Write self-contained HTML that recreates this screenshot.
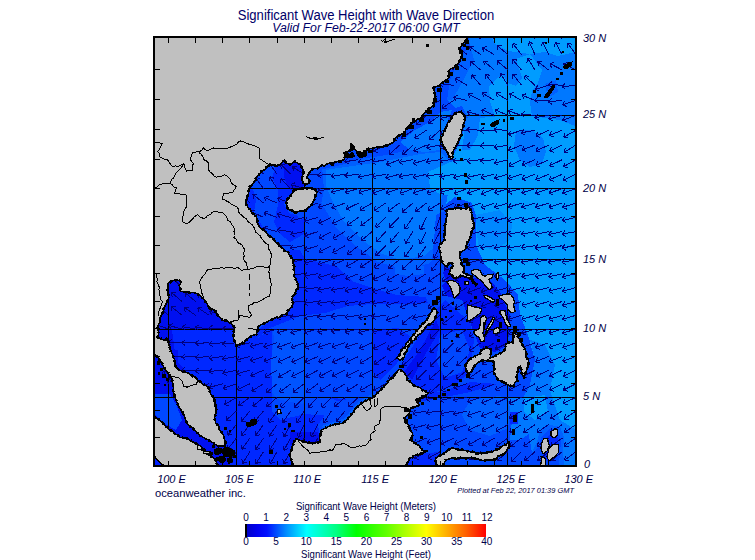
<!DOCTYPE html>
<html><head><meta charset="utf-8"><title>Significant Wave Height</title>
<style>
html,body{margin:0;padding:0;background:#fff;}
body{width:755px;height:560px;position:relative;overflow:hidden;font-family:"Liberation Sans",sans-serif;}
.t{position:absolute;white-space:nowrap;line-height:1;font-family:"Liberation Sans",sans-serif;}
</style></head><body>
<svg width="755" height="560" viewBox="0 0 755 560" style="position:absolute;left:0;top:0" shape-rendering="crispEdges">
<defs><clipPath id="mc"><rect x="155" y="38" width="420" height="427"/></clipPath></defs>
<g clip-path="url(#mc)">
<rect x="154" y="37" width="422" height="429" fill="#0048ff"/>
<polygon points="470,30 580,30 580,470 535,470 528,430 522,400 530,385 535,360 528,335 520,315 518,295 505,280 485,265 476,245 476,215 472,203 455,197 445,205 436,200 440,180 448,165 460,142 468,118 462,106 455,108 447,100 450,80 458,62" fill="#009cff" />
<polygon points="466,30 580,30 580,128 560,120 545,118 532,116 500,116 480,118 468,118 462,106 455,108 447,100 450,80 458,62" fill="#0078ff" />
<polygon points="492,38 580,38 580,51 558,56 545,52 529,54 508,51 495,44" fill="#009cff" />
<polygon points="516,59 530,54 542,70 538,83 532,91 530,102 532,116 495,116 490,102 489,86 497,78 503,75 508,83 516,86 522,78" fill="#009cff" />
<polygon points="516,131 532,130 543,138 546,152 542,164 530,167 520,160 514,146" fill="#0078ff" />
<polygon points="466,118 480,118 478,135 470,150 462,150 464,135" fill="#0078ff" />
<polygon points="476,215 500,210 512,225 510,240 495,250 478,246" fill="#0088ff" />
<polygon points="545,84 556,80 558,92 548,98" fill="#0060ff" />
<polygon points="316,166 340,162 380,156 420,148 440,146 454,160 450,182 446,205 444,248 428,264 400,268 378,262 356,246 336,228 322,204 316,186" fill="#0060ff" />
<polygon points="326,170 345,167 380,162 420,154 440,152 450,162 446,182 440,205 438,244 424,256 400,260 382,254 362,240 344,222 332,200 326,186" fill="#0078ff" />
<polygon points="428,172 446,164 455,160 470,166 470,186 455,196 440,194 430,188" fill="#009cff" />
<polygon points="467,30 470,45 462,60 455,75 448,88 442,100 440,112 430,122 415,130 400,142 385,150 365,156 345,164 320,170 310,180 300,160 400,120 430,85 460,30" fill="#0048ff" />
<polygon points="470,45 474,60 466,75 458,90 452,100 447,100 450,80 458,62" fill="#0060ff" />
<polygon points="440,112 452,110 447,122 442,135 440,150 425,152 410,150 400,142 415,130 430,122" fill="#0078ff" />
<polygon points="245,160 300,160 306,186 286,200 290,212 300,215 300,245 285,252 270,240 255,225 245,205" fill="#0048ff" />
<polygon points="276,164 285,162 284,176 288,188 296,190 288,196 284,204 290,214 305,216 304,234 290,242 280,234 274,222 278,205 278,190 272,178" fill="#0028ff" />
<polygon points="284,160 300,160 304,186 297,191 288,189 284,176" fill="#0010f0" />
<polygon points="243,196 252,186 256,200 254,212 262,226 272,240 282,252 270,247 258,232 250,217 242,206" fill="#0028ff" />
<polygon points="306,168 322,166 324,190 320,210 300,220 296,214 312,205 318,190 310,184" fill="#0048ff" />
<polygon points="288,250 300,250 305,259 336,266 354,282 372,288 397,295 426,297 428,303 397,304 372,304 348,306 325,313 300,316 290,320 270,328 255,340 240,350 236,345 286,310 296,290 294,268" fill="#0028ff" />
<polygon points="395,266 410,262 424,266 424,274 408,276 395,274" fill="#0060ff" />
<polygon points="372,330 398,328 410,336 404,352 395,366 380,380 372,372" fill="#0028ff" />
<polygon points="150,275 240,275 240,330 150,330" fill="#0010f0" />
<polygon points="150,330 240,330 238,350 255,340 272,328 272,400 150,400" fill="#0028ff" />
<polygon points="150,330 172,330 176,360 190,376 176,372 165,345" fill="#0010f0" />
<polygon points="273,329.5 304,329.5 304,404 290,402 277,400 272,392 271,360 274,340" fill="#0054ff" />
<polygon points="150,398 272,398 300,404 330,398 360,400 380,392 400,372 400,470 150,470" fill="#0028ff" />
<polygon points="272,398 300,404 330,398 345,404 330,416 305,414 280,420 272,412" fill="#0048ff" />
<polygon points="310,404 345,400 372,390 395,370 404,375 380,400 350,425 322,445 318,425 325,415" fill="#0048ff" />
<polygon points="322,426 345,418 358,402 372,394 378,396 360,412 348,424 325,432" fill="#0060ff" />
<polygon points="290,432 318,432 320,445 290,445" fill="#0010f0" />
<polygon points="150,350 178,350 178,400 190,425 230,450 230,470 150,470" fill="#0010f0" />
<polygon points="155,394 170,394 176,404 182,420 176,430 165,424 155,415" fill="#0048ff" />
<polygon points="400,366 436,310 445,300 470,322 474,340 470,372 455,385 430,394 415,386" fill="#0028ff" />
<polygon points="404,372 420,350 436,320 440,330 425,355 412,380" fill="#0010f0" />
<polygon points="440,335 462,330 470,350 462,372 445,378 436,360" fill="#0048ff" />
<polygon points="446,266 462,276 490,280 500,292 510,315 508,345 495,352 480,348 470,322 462,300 446,296 440,280" fill="#0010f0" />
<polygon points="410,400 440,396 470,390 500,388 520,395 522,420 510,440 480,452 440,455 425,450 412,432" fill="#0048ff" />
<polygon points="412,388 440,392 470,382 498,384 470,392 440,398 418,402" fill="#0028ff" />
<polygon points="470,400 500,396 512,405 508,428 490,436 470,430 462,415" fill="#0060ff" />
<polygon points="406,455 440,452 440,470 404,470" fill="#0028ff" />
<polygon points="508,398 530,396 540,410 535,430 520,440 510,440 512,420" fill="#0078ff" />
<polygon points="510,412 518,412 518,424 510,424" fill="#0028ff" />
<polygon points="530,340 545,345 555,365 550,390 560,420 576,430 580,470 535,470 528,430 522,400 530,385 535,360" fill="#0078ff" />
<polygon points="524,398 545,395 548,412 535,420 524,412" fill="#009cff" />
<polygon points="540,430 550,425 560,427 564,437 563,452 565,470 530,470 532,452 537,442" fill="#0060ff" />
<polygon points="542,436 550,429 558,430 561,440 560,455 558,468 524,468 530,455 538,448" fill="#0048ff" />
<polygon points="545,440 551,433 557,434 559,444 556,456 550,462 543,458" fill="#0028ff" />
<polygon points="436,215 447,210 446,245 440,262 446,282 436,290 432,262 434,240" fill="#0048ff" />
<rect x="168" y="37" width="1" height="429" fill="#000"/>
<rect x="236" y="37" width="1" height="429" fill="#000"/>
<rect x="304" y="37" width="1" height="429" fill="#000"/>
<rect x="372" y="37" width="1" height="429" fill="#000"/>
<rect x="440" y="37" width="1" height="429" fill="#000"/>
<rect x="507" y="37" width="1" height="429" fill="#000"/>
<rect x="154" y="397" width="422" height="1" fill="#000"/>
<rect x="154" y="329" width="422" height="1" fill="#000"/>
<rect x="154" y="259" width="422" height="1" fill="#000"/>
<rect x="154" y="188" width="422" height="1" fill="#000"/>
<rect x="154" y="115" width="422" height="1" fill="#000"/>
<path d="M154.9 383.8L151.2 370.3M151.2 370.3L149.3 374.5M151.2 370.3L155.0 372.9M154.9 370.2L151.2 356.7M151.2 356.7L149.3 360.9M151.2 356.7L155.0 359.3M154.9 356.5L152.3 342.8M152.3 342.8L150.1 346.8M152.3 342.8L155.9 345.7M154.9 342.8L152.1 329.1M152.1 329.1L149.9 333.2M152.1 329.1L155.7 332.0M154.9 329.1L144.5 319.8M144.5 319.8L145.1 324.3M144.5 319.8L149.1 319.9M154.9 315.3L143.8 306.8M143.8 306.8L144.8 311.3M143.8 306.8L148.4 306.6M154.9 301.5L144.9 291.7M144.9 291.7L145.4 296.3M144.9 291.7L149.5 292.1M154.9 287.6L146.5 276.4M146.5 276.4L146.3 281.0M146.5 276.4L151.0 277.5M154.9 273.7L146.3 262.7M146.3 262.7L146.1 267.3M146.3 262.7L150.8 263.7M154.9 259.7L145.1 249.8M145.1 249.8L145.5 254.3M145.1 249.8L149.7 250.2M154.9 245.7L144.1 236.9M144.1 236.9L144.9 241.4M144.1 236.9L148.7 236.8M154.9 231.6L143.3 223.8M143.3 223.8L144.6 228.2M143.3 223.8L147.9 223.3M154.9 217.4L142.8 210.3M142.8 210.3L144.4 214.6M142.8 210.3L147.4 209.5M154.9 203.1L142.6 196.4M142.6 196.4L144.3 200.7M142.6 196.4L147.1 195.5M154.9 188.7L142.6 182.2M142.6 182.2L144.3 186.4M142.6 182.2L147.1 181.2M154.9 174.3L142.6 167.7M142.6 167.7L144.3 172.0M142.6 167.7L147.1 166.7M154.9 159.7L142.5 153.2M142.5 153.2L144.3 157.4M142.5 153.2L147.0 152.2M154.9 145.1L142.5 138.6M142.5 138.6L144.3 142.9M142.5 138.6L147.0 137.6M154.9 130.3L142.4 124.1M142.4 124.1L144.2 128.3M142.4 124.1L146.9 123.0M154.9 115.4L142.3 109.5M142.3 109.5L144.2 113.6M142.3 109.5L146.7 108.3M154.9 100.4L142.1 94.8M142.1 94.8L144.1 99.0M142.1 94.8L146.5 93.5M154.9 85.3L141.9 80.1M141.9 80.1L144.1 84.2M141.9 80.1L146.3 78.7M154.9 70.0L141.7 65.3M141.7 65.3L144.1 69.3M141.7 65.3L146.0 63.7M154.9 54.6L141.6 50.4M141.6 50.4L144.0 54.3M141.6 50.4L145.8 48.6M154.9 39.0L141.4 35.3M141.4 35.3L144.0 39.1M141.4 35.3L145.6 33.4M168.5 383.8L163.6 370.7M163.6 370.7L162.1 375.0M163.6 370.7L167.6 373.0M168.5 370.2L159.0 359.9M159.0 359.9L159.2 364.5M159.0 359.9L163.6 360.5M168.5 356.5L156.3 349.7M156.3 349.7L157.9 354.0M156.3 349.7L160.8 348.9M168.5 342.8L154.6 341.2M154.6 341.2L157.8 344.6M154.6 341.2L158.4 338.7M168.5 329.1L155.4 324.3M155.4 324.3L157.6 328.2M155.4 324.3L159.7 322.7M168.5 315.3L157.7 306.4M157.7 306.4L158.5 310.9M157.7 306.4L162.3 306.4M168.5 301.5L158.6 291.6M158.6 291.6L159.0 296.2M158.6 291.6L163.2 292.0M168.5 287.6L161.4 275.6M161.4 275.6L160.6 280.1M161.4 275.6L165.7 277.1M168.5 273.7L160.2 262.4M160.2 262.4L159.9 267.0M160.2 262.4L164.7 263.5M168.5 259.7L158.8 249.7M158.8 249.7L159.1 254.2M158.8 249.7L163.4 250.1M168.5 245.7L157.7 236.8M157.7 236.8L158.5 241.4M157.7 236.8L162.3 236.8M168.5 231.6L156.9 223.8M156.9 223.8L158.1 228.2M156.9 223.8L161.4 223.3M168.5 217.4L156.5 210.2M156.5 210.2L158.0 214.6M156.5 210.2L161.0 209.5M168.5 203.1L156.4 196.1M156.4 196.1L157.9 200.4M156.4 196.1L160.9 195.3M168.5 188.7L156.4 181.6M156.4 181.6L158.0 186.0M156.4 181.6L161.0 180.9M168.5 174.3L156.5 167.0M156.5 167.0L158.0 171.4M156.5 167.0L161.1 166.3M168.5 159.7L156.5 152.4M156.5 152.4L158.0 156.8M156.5 152.4L161.1 151.7M168.5 145.1L156.5 137.9M156.5 137.9L158.0 142.2M156.5 137.9L161.0 137.1M168.5 130.3L156.4 123.3M156.4 123.3L157.9 127.6M156.4 123.3L160.9 122.5M168.5 115.4L156.2 108.8M156.2 108.8L157.9 113.1M156.2 108.8L160.7 107.9M168.5 100.4L155.9 94.3M155.9 94.3L157.8 98.5M155.9 94.3L160.4 93.2M168.5 85.3L155.7 79.7M155.7 79.7L157.7 83.8M155.7 79.7L160.1 78.4M168.5 70.0L155.5 64.9M155.5 64.9L157.7 69.0M155.5 64.9L159.8 63.5M168.5 54.6L155.2 50.1M155.2 50.1L157.6 54.0M155.2 50.1L159.5 48.4M168.5 39.0L155.1 35.1M155.1 35.1L157.6 38.9M155.1 35.1L159.3 33.2M182.1 383.8L169.3 378.2M169.3 378.2L171.3 382.3M169.3 378.2L173.7 376.9M182.1 370.2L168.1 368.9M168.1 368.9L171.4 372.2M168.1 368.9L171.9 366.3M182.1 356.5L168.1 356.4M168.1 356.4L171.6 359.4M168.1 356.4L171.6 353.5M182.1 342.8L168.1 342.2M168.1 342.2L171.5 345.3M168.1 342.2L171.7 339.4M182.1 329.1L168.6 325.4M168.6 325.4L171.2 329.2M168.6 325.4L172.8 323.5M182.1 315.3L171.2 306.5M171.2 306.5L172.1 311.0M171.2 306.5L175.8 306.4M182.1 301.5L171.4 292.5M171.4 292.5L172.2 297.0M171.4 292.5L176.0 292.5M182.1 287.6L172.2 277.7M172.2 277.7L172.6 282.3M172.2 277.7L176.8 278.1M182.1 273.7L172.4 263.6M172.4 263.6L172.7 268.2M172.4 263.6L176.9 264.1M182.1 259.7L171.8 250.2M171.8 250.2L172.4 254.8M171.8 250.2L176.4 250.4M182.1 245.7L170.9 237.2M170.9 237.2L171.9 241.7M170.9 237.2L175.5 237.0M182.1 231.6L170.3 224.0M170.3 224.0L171.7 228.4M170.3 224.0L174.8 223.4M182.1 217.4L170.1 210.1M170.1 210.1L171.6 214.5M170.1 210.1L174.6 209.4M182.1 203.1L170.2 195.6M170.2 195.6L171.6 200.0M170.2 195.6L174.8 195.0M182.1 188.7L170.5 180.9M170.5 180.9L171.7 185.3M170.5 180.9L175.0 180.4M182.1 174.3L170.7 166.2M170.7 166.2L171.8 170.6M170.7 166.2L175.2 165.8M182.1 159.7L170.7 151.5M170.7 151.5L171.8 156.0M170.7 151.5L175.3 151.2M182.1 145.1L170.6 137.0M170.6 137.0L171.8 141.4M170.6 137.0L175.2 136.6M182.1 130.3L170.4 122.5M170.4 122.5L171.7 126.9M170.4 122.5L175.0 122.0M182.1 115.4L170.1 108.1M170.1 108.1L171.6 112.4M170.1 108.1L174.7 107.4M182.1 100.4L169.8 93.6M169.8 93.6L171.5 97.9M169.8 93.6L174.3 92.8M182.1 85.3L169.5 79.1M169.5 79.1L171.4 83.3M169.5 79.1L174.0 78.0M182.1 70.0L169.2 64.5M169.2 64.5L171.3 68.6M169.2 64.5L173.6 63.2M182.1 54.6L168.9 49.8M168.9 49.8L171.2 53.8M168.9 49.8L173.2 48.2M182.1 39.0L168.7 34.9M168.7 34.9L171.2 38.7M168.7 34.9L173.0 33.1M195.7 383.8L181.7 385.0M181.7 385.0L185.5 387.6M181.7 385.0L185.0 381.7M195.7 370.2L181.7 370.2M181.7 370.2L185.2 373.2M181.7 370.2L185.2 367.2M195.7 356.5L181.7 357.2M181.7 357.2L185.3 360.0M181.7 357.2L185.0 354.1M195.7 342.8L181.7 342.7M181.7 342.7L185.2 345.7M181.7 342.7L185.2 339.8M195.7 329.1L181.9 326.6M181.9 326.6L184.8 330.1M181.9 326.6L185.9 324.3M195.7 315.3L184.1 307.4M184.1 307.4L185.3 311.8M184.1 307.4L188.7 307.0M195.7 301.5L184.9 292.6M184.9 292.6L185.7 297.1M184.9 292.6L189.5 292.5M195.7 287.6L185.1 278.4M185.1 278.4L185.8 283.0M185.1 278.4L189.7 278.5M195.7 273.7L185.1 264.5M185.1 264.5L185.8 269.0M185.1 264.5L189.7 264.6M195.7 259.7L184.6 251.2M184.6 251.2L185.6 255.6M184.6 251.2L189.2 251.0M195.7 245.7L183.9 238.0M183.9 238.0L185.3 242.4M183.9 238.0L188.5 237.5M195.7 231.6L183.7 224.3M183.7 224.3L185.2 228.7M183.7 224.3L188.2 223.6M195.7 217.4L183.9 209.8M183.9 209.8L185.2 214.2M183.9 209.8L188.4 209.2M195.7 203.1L184.3 194.9M184.3 194.9L185.4 199.4M184.3 194.9L188.9 194.6M195.7 188.7L184.7 180.0M184.7 180.0L185.6 184.5M184.7 180.0L189.3 179.9M195.7 174.3L185.0 165.2M185.0 165.2L185.8 169.7M185.0 165.2L189.6 165.2M195.7 159.7L185.1 150.6M185.1 150.6L185.8 155.1M185.1 150.6L189.7 150.6M195.7 145.1L184.9 136.1M184.9 136.1L185.7 140.6M184.9 136.1L189.5 136.1M195.7 130.3L184.6 121.7M184.6 121.7L185.6 126.2M184.6 121.7L189.2 121.5M195.7 115.4L184.2 107.3M184.2 107.3L185.4 111.8M184.2 107.3L188.8 106.9M195.7 100.4L183.8 93.0M183.8 93.0L185.2 97.4M183.8 93.0L188.3 92.4M195.7 85.3L183.3 78.6M183.3 78.6L185.0 82.9M183.3 78.6L187.8 77.7M195.7 70.0L182.9 64.2M182.9 64.2L184.9 68.3M182.9 64.2L187.4 63.0M195.7 54.6L182.6 49.5M182.6 49.5L184.8 53.6M182.6 49.5L186.9 48.1M195.7 39.0L182.3 34.7M182.3 34.7L184.8 38.6M182.3 34.7L186.6 33.0M209.2 383.8L195.4 386.2M195.4 386.2L199.4 388.5M195.4 386.2L198.4 382.7M209.2 370.2L195.2 371.0M195.2 371.0L198.9 373.7M195.2 371.0L198.6 367.8M209.2 356.5L195.3 357.7M195.3 357.7L199.0 360.3M195.3 357.7L198.5 354.5M209.2 342.8L195.2 343.3M195.2 343.3L198.8 346.1M195.2 343.3L198.7 340.2M209.2 329.1L195.4 327.1M195.4 327.1L198.4 330.5M195.4 327.1L199.3 324.7M209.2 315.3L197.6 307.5M197.6 307.5L198.9 311.9M197.6 307.5L202.2 307.0M209.2 301.5L197.7 293.6M197.7 293.6L198.9 298.1M197.7 293.6L202.2 293.2M209.2 287.6L197.8 279.6M197.8 279.6L199.0 284.1M197.8 279.6L202.3 279.2M209.2 273.7L197.6 265.9M197.6 265.9L198.9 270.3M197.6 265.9L202.2 265.4M209.2 259.7L197.2 252.5M197.2 252.5L198.7 256.9M197.2 252.5L201.8 251.8M209.2 245.7L197.0 238.9M197.0 238.9L198.6 243.2M197.0 238.9L201.5 238.0M209.2 231.6L197.2 224.4M197.2 224.4L198.7 228.8M197.2 224.4L201.7 223.7M209.2 217.4L197.8 209.2M197.8 209.2L199.0 213.7M197.8 209.2L202.4 208.9M209.2 203.1L198.5 194.0M198.5 194.0L199.3 198.6M198.5 194.0L203.1 194.1M209.2 188.7L199.1 179.0M199.1 179.0L199.6 183.6M199.1 179.0L203.7 179.3M209.2 174.3L199.5 164.2M199.5 164.2L199.8 168.8M199.5 164.2L204.0 164.7M209.2 159.7L199.5 149.6M199.5 149.6L199.8 154.2M199.5 149.6L204.1 150.1M209.2 145.1L199.3 135.1M199.3 135.1L199.7 139.7M199.3 135.1L203.9 135.6M209.2 130.3L198.9 120.8M198.9 120.8L199.5 125.4M198.9 120.8L203.5 121.0M209.2 115.4L198.3 106.6M198.3 106.6L199.2 111.1M198.3 106.6L202.9 106.5M209.2 100.4L197.7 92.4M197.7 92.4L198.9 96.9M197.7 92.4L202.3 92.0M209.2 85.3L197.2 78.2M197.2 78.2L198.7 82.5M197.2 78.2L201.7 77.4M209.2 70.0L196.6 63.9M196.6 63.9L198.5 68.1M196.6 63.9L201.1 62.8M209.2 54.6L196.2 49.4M196.2 49.4L198.4 53.4M196.2 49.4L200.6 47.9M209.2 39.0L195.9 34.6M195.9 34.6L198.4 38.5M195.9 34.6L200.2 32.9M222.8 383.8L209.3 387.4M209.3 387.4L213.4 389.3M209.3 387.4L211.9 383.6M222.8 370.2L208.9 371.5M208.9 371.5L212.6 374.1M208.9 371.5L212.1 368.2M222.8 356.5L208.9 358.4M208.9 358.4L212.8 360.9M208.9 358.4L212.0 355.0M222.8 342.8L208.8 344.0M208.8 344.0L212.6 346.6M208.8 344.0L212.1 340.7M222.8 329.1L208.9 327.9M208.9 327.9L212.1 331.1M208.9 327.9L212.6 325.2M222.8 315.3L209.4 311.2M209.4 311.2L211.9 315.0M209.4 311.2L213.7 309.4M222.8 301.5L210.1 295.6M210.1 295.6L212.1 299.8M210.1 295.6L214.5 294.4M222.8 287.6L210.2 281.6M210.2 281.6L212.1 285.8M210.2 281.6L214.6 280.5M222.8 273.7L210.1 267.9M210.1 267.9L212.0 272.0M210.1 267.9L214.5 266.7M222.8 259.7L210.0 254.1M210.0 254.1L212.0 258.3M210.0 254.1L214.4 252.8M222.8 245.7L210.2 239.6M210.2 239.6L212.1 243.8M210.2 239.6L214.6 238.5M222.8 231.6L210.9 224.2M210.9 224.2L212.3 228.6M210.9 224.2L215.4 223.6M222.8 217.4L211.9 208.5M211.9 208.5L212.8 213.1M211.9 208.5L216.5 208.5M222.8 203.1L212.8 193.3M212.8 193.3L213.3 197.8M212.8 193.3L217.4 193.6M222.8 188.7L213.5 178.3M213.5 178.3L213.6 182.9M213.5 178.3L218.0 178.9M222.8 174.3L214.0 163.4M214.0 163.4L213.9 168.0M214.0 163.4L218.5 164.3M222.8 159.7L214.1 148.7M214.1 148.7L214.0 153.3M214.1 148.7L218.6 149.7M222.8 145.1L213.8 134.3M213.8 134.3L213.8 138.9M213.8 134.3L218.3 135.1M222.8 130.3L213.2 120.1M213.2 120.1L213.5 124.7M213.2 120.1L217.8 120.6M222.8 115.4L212.5 106.0M212.5 106.0L213.1 110.5M212.5 106.0L217.1 106.2M222.8 100.4L211.7 91.9M211.7 91.9L212.7 96.4M211.7 91.9L216.3 91.7M222.8 85.3L210.9 77.8M210.9 77.8L212.4 82.2M210.9 77.8L215.5 77.2M222.8 70.0L210.3 63.7M210.3 63.7L212.1 67.9M210.3 63.7L214.8 62.6M222.8 54.6L209.9 49.3M209.9 49.3L212.0 53.3M209.9 49.3L214.2 47.9M222.8 39.0L209.5 34.6M209.5 34.6L211.9 38.5M209.5 34.6L213.8 32.9M236.4 465.2L228.5 476.8M228.5 476.8L233.0 475.5M228.5 476.8L228.1 472.2M236.4 451.7L228.5 463.2M228.5 463.2L232.9 462.0M228.5 463.2L228.0 458.7M236.4 438.1L227.8 449.1M227.8 449.1L232.3 448.2M227.8 449.1L227.6 444.6M236.4 424.6L227.5 435.4M227.5 435.4L232.0 434.5M227.5 435.4L227.5 430.8M236.4 411.0L226.0 420.4M226.0 420.4L230.6 420.2M226.0 420.4L226.6 415.8M236.4 397.4L224.4 404.7M224.4 404.7L229.0 405.4M224.4 404.7L225.9 400.3M236.4 383.8L223.2 388.5M223.2 388.5L227.5 390.1M223.2 388.5L225.5 384.6M236.4 370.2L222.7 373.1M222.7 373.1L226.8 375.3M222.7 373.1L225.5 369.5M236.4 356.5L222.6 359.0M222.6 359.0L226.6 361.3M222.6 359.0L225.5 355.5M236.4 342.8L222.4 344.1M222.4 344.1L226.2 346.7M222.4 344.1L225.7 340.9M236.4 329.1L222.4 328.6M222.4 328.6L225.8 331.7M222.4 328.6L226.0 325.8M236.4 315.3L222.5 313.7M222.5 313.7L225.6 317.0M222.5 313.7L226.3 311.2M236.4 301.5L222.7 298.6M222.7 298.6L225.5 302.2M222.7 298.6L226.8 296.4M236.4 287.6L222.8 284.2M222.8 284.2L225.5 287.9M222.8 284.2L227.0 282.2M236.4 273.7L222.9 270.1M222.9 270.1L225.5 273.8M222.9 270.1L227.0 268.1M236.4 259.7L223.0 255.5M223.0 255.5L225.5 259.4M223.0 255.5L227.3 253.8M236.4 245.7L223.5 240.2M223.5 240.2L225.6 244.3M223.5 240.2L227.9 238.9M236.4 231.6L224.4 224.3M224.4 224.3L225.9 228.6M224.4 224.3L229.0 223.6M236.4 217.4L225.9 208.0M225.9 208.0L226.6 212.6M225.9 208.0L230.5 208.2M236.4 203.1L227.0 192.7M227.0 192.7L227.2 197.3M227.0 192.7L231.6 193.3M236.4 188.7L227.5 177.9M227.5 177.9L227.5 182.5M227.5 177.9L232.0 178.7M236.4 174.3L228.6 162.6M228.6 162.6L228.1 167.2M228.6 162.6L233.0 163.9M236.4 159.7L228.6 148.1M228.6 148.1L228.1 152.6M228.6 148.1L233.0 149.4M236.4 145.1L228.2 133.7M228.2 133.7L227.8 138.3M228.2 133.7L232.6 134.8M236.4 130.3L227.5 119.5M227.5 119.5L227.4 124.1M227.5 119.5L232.0 120.3M236.4 115.4L226.5 105.5M226.5 105.5L226.9 110.1M226.5 105.5L231.1 105.9M236.4 100.4L225.5 91.5M225.5 91.5L226.4 96.1M225.5 91.5L230.1 91.5M236.4 85.3L224.6 77.6M224.6 77.6L226.0 82.0M224.6 77.6L229.2 77.1M236.4 70.0L223.9 63.6M223.9 63.6L225.7 67.8M223.9 63.6L228.4 62.6M236.4 54.6L223.4 49.3M223.4 49.3L225.6 53.4M223.4 49.3L227.8 47.9M236.4 39.0L223.1 34.7M223.1 34.7L225.5 38.6M223.1 34.7L227.3 33.0M249.9 465.2L242.9 477.3M242.9 477.3L247.3 475.7M242.9 477.3L242.1 472.8M249.9 451.7L242.5 463.5M242.5 463.5L246.9 462.1M242.5 463.5L241.9 459.0M249.9 438.1L241.7 449.4M241.7 449.4L246.2 448.3M241.7 449.4L241.4 444.8M249.9 424.6L241.2 435.5M241.2 435.5L245.7 434.6M241.2 435.5L241.1 430.9M249.9 411.0L241.0 421.8M241.0 421.8L245.6 421.0M241.0 421.8L241.0 417.2M249.9 397.4L238.6 405.6M238.6 405.6L243.2 406.0M238.6 405.6L239.7 401.2M249.9 383.8L237.3 389.7M237.3 389.7L241.7 390.9M237.3 389.7L239.2 385.6M249.9 370.2L236.4 373.9M236.4 373.9L240.6 375.8M236.4 373.9L239.1 370.1M249.9 356.5L236.4 360.1M236.4 360.1L240.6 362.1M236.4 360.1L239.1 356.4M249.9 342.8L236.4 346.2M236.4 346.2L240.5 348.2M236.4 346.2L239.1 342.5M249.9 329.1L236.1 331.5M236.1 331.5L240.1 333.8M236.1 331.5L239.1 328.0M249.9 315.3L236.0 316.3M236.0 316.3L239.7 319.0M236.0 316.3L239.3 313.1M249.9 301.5L236.0 301.4M236.0 301.4L239.4 304.4M236.0 301.4L239.5 298.5M249.9 287.6L236.0 286.7M236.0 286.7L239.3 289.9M236.0 286.7L239.7 284.0M249.9 273.7L236.1 272.0M236.1 272.0L239.2 275.3M236.1 272.0L239.9 269.5M249.9 259.7L236.3 256.7M236.3 256.7L239.1 260.3M236.3 256.7L240.4 254.6M249.9 245.7L236.8 241.0M236.8 241.0L239.1 244.9M236.8 241.0L241.1 239.4M249.9 231.6L237.5 225.2M237.5 225.2L239.3 229.5M237.5 225.2L241.9 224.2M249.9 217.4L238.7 209.0M238.7 209.0L239.8 213.4M238.7 209.0L243.3 208.7M249.9 203.1L240.9 192.4M240.9 192.4L240.9 197.0M240.9 192.4L245.4 193.2M249.9 188.7L241.0 178.0M241.0 178.0L241.0 182.6M241.0 178.0L245.5 178.8M249.9 174.3L242.9 162.2M242.9 162.2L242.1 166.7M242.9 162.2L247.2 163.7M249.9 159.7L242.8 147.7M242.8 147.7L242.1 152.2M242.8 147.7L247.1 149.2M249.9 145.1L242.5 133.2M242.5 133.2L241.9 137.8M242.5 133.2L246.9 134.6M249.9 130.3L241.5 119.1M241.5 119.1L241.3 123.7M241.5 119.1L246.0 120.1M249.9 115.4L240.4 105.2M240.4 105.2L240.6 109.8M240.4 105.2L245.0 105.7M249.9 100.4L239.2 91.4M239.2 91.4L240.0 96.0M239.2 91.4L243.8 91.4M249.9 85.3L238.2 77.7M238.2 77.7L239.5 82.1M238.2 77.7L242.8 77.1M249.9 70.0L237.4 63.8M237.4 63.8L239.3 68.0M237.4 63.8L241.9 62.7M249.9 54.6L236.9 49.6M236.9 49.6L239.1 53.6M236.9 49.6L241.2 48.1M249.9 39.0L236.5 35.0M236.5 35.0L239.1 38.9M236.5 35.0L240.8 33.2M263.5 465.2L256.2 477.1M256.2 477.1L260.6 475.7M256.2 477.1L255.5 472.6M263.5 451.7L256.0 463.5M256.0 463.5L260.4 462.1M256.0 463.5L255.4 458.9M263.5 438.1L255.5 449.6M255.5 449.6L260.0 448.4M255.5 449.6L255.1 445.0M263.5 424.6L255.3 435.9M255.3 435.9L259.7 434.8M255.3 435.9L255.0 431.3M263.5 411.0L254.5 421.7M254.5 421.7L259.0 420.9M254.5 421.7L254.5 417.1M263.5 397.4L252.8 406.4M252.8 406.4L257.4 406.4M252.8 406.4L253.6 401.8M263.5 383.8L251.6 391.2M251.6 391.2L256.2 391.8M251.6 391.2L253.1 386.8M263.5 370.2L250.7 375.8M250.7 375.8L255.1 377.1M250.7 375.8L252.7 371.7M263.5 356.5L250.2 360.8M250.2 360.8L254.5 362.6M250.2 360.8L252.6 356.9M263.5 342.8L250.0 346.5M250.0 346.5L254.2 348.4M250.0 346.5L252.6 342.7M263.5 329.1L250.0 332.7M250.0 332.7L254.1 334.6M250.0 332.7L252.6 328.9M263.5 315.3L249.9 318.3M249.9 318.3L253.9 320.5M249.9 318.3L252.7 314.7M263.5 301.5L249.6 303.3M249.6 303.3L253.5 305.8M249.6 303.3L252.8 299.9M263.5 287.6L249.5 288.4M249.5 288.4L253.2 291.2M249.5 288.4L252.9 285.2M263.5 273.7L249.5 273.5M249.5 273.5L253.0 276.5M249.5 273.5L253.1 270.6M263.5 259.7L249.7 257.8M249.7 257.8L252.7 261.2M249.7 257.8L253.6 255.4M263.5 245.7L250.0 242.0M250.0 242.0L252.6 245.8M250.0 242.0L254.2 240.1M263.5 231.6L250.4 226.7M250.4 226.7L252.7 230.7M250.4 226.7L254.8 225.1M263.5 217.4L250.9 211.4M250.9 211.4L252.8 215.6M250.9 211.4L255.3 210.2M263.5 203.1L252.8 194.1M252.8 194.1L253.6 198.6M252.8 194.1L257.4 194.1M263.5 188.7L255.4 177.3M255.4 177.3L255.0 181.9M255.4 177.3L259.9 178.5M263.5 174.3L256.5 162.2M256.5 162.2L255.7 166.7M256.5 162.2L260.8 163.7M263.5 159.7L256.9 147.4M256.9 147.4L256.0 151.9M256.9 147.4L261.2 149.1M263.5 145.1L256.4 133.0M256.4 133.0L255.6 137.6M256.4 133.0L260.7 134.5M263.5 130.3L255.3 119.0M255.3 119.0L255.0 123.6M255.3 119.0L259.7 120.1M263.5 115.4L253.9 105.2M253.9 105.2L254.2 109.8M253.9 105.2L258.5 105.8M263.5 100.4L252.6 91.6M252.6 91.6L253.5 96.1M252.6 91.6L257.2 91.5M263.5 85.3L251.5 78.0M251.5 78.0L253.0 82.4M251.5 78.0L256.1 77.3M263.5 70.0L250.8 64.2M250.8 64.2L252.8 68.4M250.8 64.2L255.2 63.0M263.5 54.6L250.3 50.0M250.3 50.0L252.7 54.0M250.3 50.0L254.6 48.4M263.5 39.0L250.0 35.4M250.0 35.4L252.6 39.2M250.0 35.4L254.2 33.5M277.1 465.2L269.9 477.2M269.9 477.2L274.2 475.7M269.9 477.2L269.2 472.6M277.1 451.7L270.1 463.8M270.1 463.8L274.4 462.2M270.1 463.8L269.3 459.2M277.1 438.1L269.7 450.0M269.7 450.0L274.1 448.6M269.7 450.0L269.0 445.4M277.1 424.6L269.3 436.2M269.3 436.2L273.7 434.9M269.3 436.2L268.8 431.6M277.1 411.0L269.0 422.4M269.0 422.4L273.5 421.3M269.0 422.4L268.6 417.8M277.1 397.4L266.7 406.8M266.7 406.8L271.3 406.6M266.7 406.8L267.3 402.3M277.1 383.8L266.3 392.8M266.3 392.8L270.9 392.8M266.3 392.8L267.2 388.2M277.1 370.2L265.0 377.2M265.0 377.2L269.5 378.0M265.0 377.2L266.5 372.9M277.1 356.5L264.0 361.4M264.0 361.4L268.3 362.9M264.0 361.4L266.2 357.4M277.1 342.8L263.7 347.0M263.7 347.0L268.0 348.8M263.7 347.0L266.2 343.1M277.1 329.1L263.6 332.7M263.6 332.7L267.7 334.7M263.6 332.7L266.2 329.0M277.1 315.3L263.5 318.7M263.5 318.7L267.6 320.7M263.5 318.7L266.2 315.0M277.1 301.5L263.3 303.6M263.3 303.6L267.2 306.0M263.3 303.6L266.3 300.1M277.1 287.6L263.2 289.0M263.2 289.0L267.0 291.6M263.2 289.0L266.4 285.7M277.1 273.7L263.1 274.7M263.1 274.7L266.9 277.4M263.1 274.7L266.4 271.5M277.1 259.7L263.1 259.5M263.1 259.5L266.6 262.5M263.1 259.5L266.7 256.6M277.1 245.7L263.4 242.9M263.4 242.9L266.2 246.5M263.4 242.9L267.4 240.7M277.1 231.6L263.6 227.9M263.6 227.9L266.2 231.7M263.6 227.9L267.7 226.0M277.1 217.4L263.9 212.6M263.9 212.6L266.2 216.6M263.9 212.6L268.3 211.0M277.1 203.1L264.3 197.4M264.3 197.4L266.3 201.5M264.3 197.4L268.7 196.1M277.1 188.7L269.8 176.8M269.8 176.8L269.1 181.3M269.8 176.8L274.2 178.2M277.1 174.3L269.0 162.8M269.0 162.8L268.7 167.4M269.0 162.8L273.5 164.0M277.1 159.7L269.7 147.9M269.7 147.9L269.0 152.4M269.7 147.9L274.0 149.3M277.1 145.1L269.4 133.4M269.4 133.4L268.9 137.9M269.4 133.4L273.8 134.7M277.1 130.3L268.4 119.3M268.4 119.3L268.3 123.9M268.4 119.3L272.9 120.3M277.1 115.4L267.0 105.8M267.0 105.8L267.5 110.3M267.0 105.8L271.5 106.0M277.1 100.4L265.6 92.4M265.6 92.4L266.8 96.8M265.6 92.4L270.2 92.0M277.1 85.3L264.7 78.9M264.7 78.9L266.4 83.1M264.7 78.9L269.2 77.8M277.1 70.0L264.0 65.0M264.0 65.0L266.3 69.0M264.0 65.0L268.4 63.5M277.1 54.6L263.6 50.8M263.6 50.8L266.2 54.6M263.6 50.8L267.8 48.9M277.1 39.0L263.4 36.0M263.4 36.0L266.2 39.7M263.4 36.0L267.5 33.9M290.7 465.2L283.3 477.1M283.3 477.1L287.7 475.7M283.3 477.1L282.7 472.6M290.7 451.7L283.6 463.7M283.6 463.7L287.9 462.2M283.6 463.7L282.8 459.2M290.7 438.1L283.8 450.3M283.8 450.3L288.1 448.7M283.8 450.3L282.9 445.8M290.7 424.6L283.7 436.7M283.7 436.7L288.0 435.1M283.7 436.7L282.9 432.2M290.7 411.0L282.7 422.5M282.7 422.5L287.1 421.3M282.7 422.5L282.3 417.9M290.7 397.4L280.7 407.3M280.7 407.3L285.3 406.9M280.7 407.3L281.1 402.7M290.7 383.8L279.6 392.3M279.6 392.3L284.2 392.5M279.6 392.3L280.6 387.8M290.7 370.2L278.5 377.1M278.5 377.1L283.0 377.9M278.5 377.1L280.1 372.8M290.7 356.5L277.9 362.1M277.9 362.1L282.3 363.4M277.9 362.1L279.9 358.0M290.7 342.8L277.5 347.5M277.5 347.5L281.8 349.1M277.5 347.5L279.8 343.5M290.7 329.1L277.1 332.7M277.1 332.7L281.3 334.7M277.1 332.7L279.8 328.9M290.7 315.3L276.9 317.6M276.9 317.6L280.8 320.0M276.9 317.6L279.9 314.1M290.7 301.5L276.7 302.8M276.7 302.8L280.5 305.4M276.7 302.8L280.0 299.5M290.7 287.6L276.7 288.8M276.7 288.8L280.5 291.5M276.7 288.8L280.0 285.6M290.7 273.7L276.8 275.3M276.8 275.3L280.6 277.8M276.8 275.3L279.9 271.9M290.7 259.7L276.8 261.5M276.8 261.5L280.7 264.0M276.8 261.5L279.9 258.2M290.7 245.7L276.7 245.9M276.7 245.9L280.2 248.8M276.7 245.9L280.2 242.9M290.7 231.6L276.8 229.7M276.8 229.7L279.9 233.1M276.8 229.7L280.7 227.2M290.7 217.4L277.1 213.8M277.1 213.8L279.8 217.6M277.1 213.8L281.3 211.9M290.7 203.1L277.5 198.2M277.5 198.2L279.8 202.2M277.5 198.2L281.9 196.7M290.7 188.7L280.7 178.9M280.7 178.9L281.1 183.5M280.7 178.9L285.3 179.3M290.7 174.3L280.8 164.3M280.8 164.3L281.2 168.9M280.8 164.3L285.4 164.8M290.7 159.7L281.7 148.9M281.7 148.9L281.7 153.5M281.7 148.9L286.3 149.8M290.7 145.1L281.8 134.2M281.8 134.2L281.8 138.8M281.8 134.2L286.3 135.1M290.7 130.3L280.7 120.5M280.7 120.5L281.1 125.1M280.7 120.5L285.3 120.8M290.7 115.4L279.4 107.1M279.4 107.1L280.5 111.6M279.4 107.1L284.0 106.8M290.7 100.4L278.3 93.8M278.3 93.8L280.0 98.1M278.3 93.8L282.8 92.8M290.7 85.3L277.6 80.2M277.6 80.2L279.8 84.2M277.6 80.2L282.0 78.7M290.7 70.0L277.2 66.2M277.2 66.2L279.8 70.0M277.2 66.2L281.4 64.3M290.7 54.6L277.0 51.7M277.0 51.7L279.8 55.3M277.0 51.7L281.0 49.5M290.7 39.0L276.9 36.8M276.9 36.8L279.9 40.3M276.9 36.8L280.8 34.4M304.2 465.2L296.9 477.1M296.9 477.1L301.2 475.7M296.9 477.1L296.2 472.5M304.2 451.7L297.9 464.1M297.9 464.1L302.1 462.3M297.9 464.1L296.8 459.6M304.2 438.1L298.3 450.8M298.3 450.8L302.5 448.9M298.3 450.8L297.1 446.3M304.2 424.6L298.3 437.2M298.3 437.2L302.4 435.3M298.3 437.2L297.1 432.8M304.2 411.0L296.8 422.8M296.8 422.8L301.2 421.4M296.8 422.8L296.2 418.3M304.2 397.4L294.4 407.3M294.4 407.3L298.9 406.9M294.4 407.3L294.8 402.7M304.2 383.8L293.1 392.2M293.1 392.2L297.7 392.5M293.1 392.2L294.1 387.8M304.2 370.2L291.9 376.8M291.9 376.8L296.4 377.7M291.9 376.8L293.6 372.5M304.2 356.5L291.6 362.4M291.6 362.4L296.0 363.6M291.6 362.4L293.5 358.3M304.2 342.8L291.1 347.6M291.1 347.6L295.4 349.2M291.1 347.6L293.4 343.6M304.2 329.1L290.7 332.7M290.7 332.7L294.9 334.7M290.7 332.7L293.4 329.0M304.2 315.3L290.4 317.1M290.4 317.1L294.2 319.6M290.4 317.1L293.5 313.7M304.2 301.5L290.3 302.3M290.3 302.3L294.0 305.0M290.3 302.3L293.6 299.1M304.2 287.6L290.3 288.6M290.3 288.6L294.0 291.3M290.3 288.6L293.6 285.4M304.2 273.7L290.3 275.2M290.3 275.2L294.1 277.8M290.3 275.2L293.5 271.9M304.2 259.7L290.5 262.1M290.5 262.1L294.4 264.5M290.5 262.1L293.4 258.6M304.2 245.7L290.5 248.1M290.5 248.1L294.4 250.4M290.5 248.1L293.4 244.6M304.2 231.6L290.5 234.4M290.5 234.4L294.6 236.6M290.5 234.4L293.4 230.8M304.2 217.4L290.7 221.0M290.7 221.0L294.9 222.9M290.7 221.0L293.4 217.2M304.2 203.1L290.3 202.7M290.3 202.7L293.7 205.7M290.3 202.7L293.9 199.8M304.2 188.7L290.9 184.6M290.9 184.6L293.4 188.5M290.9 184.6L295.1 182.8M304.2 174.3L292.5 166.7M292.5 166.7L293.8 171.1M292.5 166.7L297.0 166.1M304.2 159.7L292.8 151.6M292.8 151.6L294.0 156.1M292.8 151.6L297.4 151.2M304.2 145.1L292.6 137.2M292.6 137.2L293.9 141.7M292.6 137.2L297.2 136.8M304.2 130.3L292.1 123.3M292.1 123.3L293.7 127.6M292.1 123.3L296.6 122.5M304.2 115.4L291.5 109.7M291.5 109.7L293.5 113.8M291.5 109.7L295.9 108.4M304.2 100.4L291.0 96.0M291.0 96.0L293.4 99.9M291.0 96.0L295.2 94.3M304.2 85.3L290.6 82.0M290.6 82.0L293.4 85.7M290.6 82.0L294.8 79.9M304.2 70.0L290.5 67.6M290.5 67.6L293.4 71.1M290.5 67.6L294.5 65.3M304.2 54.6L290.4 52.7M290.4 52.7L293.5 56.1M290.4 52.7L294.3 50.3M304.2 39.0L290.3 37.5M290.3 37.5L293.5 40.9M290.3 37.5L294.2 35.0M317.8 465.2L310.1 476.9M310.1 476.9L314.5 475.6M310.1 476.9L309.6 472.3M317.8 451.7L311.0 463.9M311.0 463.9L315.3 462.3M311.0 463.9L310.2 459.4M317.8 438.1L311.3 450.5M311.3 450.5L315.6 448.8M311.3 450.5L310.4 446.0M317.8 424.6L311.2 436.9M311.2 436.9L315.5 435.2M311.2 436.9L310.3 432.4M317.8 411.0L310.1 422.7M310.1 422.7L314.5 421.4M310.1 422.7L309.6 418.1M317.8 397.4L308.0 407.4M308.0 407.4L312.6 406.9M308.0 407.4L308.4 402.8M317.8 383.8L306.5 392.1M306.5 392.1L311.1 392.4M306.5 392.1L307.6 387.6M317.8 370.2L305.7 377.1M305.7 377.1L310.2 378.0M305.7 377.1L307.3 372.8M317.8 356.5L305.1 362.4M305.1 362.4L309.6 363.6M305.1 362.4L307.1 358.2M317.8 342.8L304.7 347.6M304.7 347.6L309.0 349.2M304.7 347.6L307.0 343.6M317.8 329.1L304.3 332.6M304.3 332.6L308.4 334.6M304.3 332.6L306.9 328.9M317.8 315.3L304.0 317.5M304.0 317.5L307.9 319.8M304.0 317.5L307.0 314.0M317.8 301.5L303.9 302.9M303.9 302.9L307.7 305.5M303.9 302.9L307.1 299.6M317.8 287.6L303.9 289.2M303.9 289.2L307.7 291.7M303.9 289.2L307.1 285.8M317.8 273.7L304.0 276.0M304.0 276.0L308.0 278.4M304.0 276.0L307.0 272.5M317.8 259.7L304.3 263.3M304.3 263.3L308.4 265.2M304.3 263.3L306.9 259.5M317.8 245.7L304.5 249.9M304.5 249.9L308.7 251.7M304.5 249.9L306.9 246.0M317.8 231.6L304.5 236.0M304.5 236.0L308.8 237.7M304.5 236.0L307.0 232.0M317.8 217.4L304.4 221.4M304.4 221.4L308.7 223.2M304.4 221.4L306.9 217.6M317.8 203.1L304.4 207.1M304.4 207.1L308.6 208.9M304.4 207.1L306.9 203.3M317.8 188.7L304.0 191.1M304.0 191.1L308.0 193.4M304.0 191.1L307.0 187.6M317.8 174.3L303.9 175.2M303.9 175.2L307.6 177.9M303.9 175.2L307.2 172.0M317.8 159.7L303.9 158.8M303.9 158.8L307.2 162.0M303.9 158.8L307.6 156.1M317.8 145.1L304.0 142.6M304.0 142.6L307.0 146.2M304.0 142.6L308.0 140.3M317.8 130.3L304.1 127.5M304.1 127.5L307.0 131.1M304.1 127.5L308.1 125.3M317.8 115.4L304.0 113.0M304.0 113.0L307.0 116.5M304.0 113.0L308.0 110.7M317.8 100.4L304.0 98.5M304.0 98.5L307.0 101.9M304.0 98.5L307.8 96.1M317.8 85.3L303.9 83.9M303.9 83.9L307.1 87.2M303.9 83.9L307.7 81.3M317.8 70.0L303.9 69.0M303.9 69.0L307.2 72.2M303.9 69.0L307.6 66.3M317.8 54.6L303.9 53.8M303.9 53.8L307.2 56.9M303.9 53.8L307.5 51.0M317.8 39.0L303.8 38.3M303.8 38.3L307.2 41.4M303.8 38.3L307.5 35.5M331.4 465.2L322.7 476.2M322.7 476.2L327.2 475.3M322.7 476.2L322.6 471.6M331.4 451.7L323.5 463.2M323.5 463.2L327.9 462.0M323.5 463.2L323.1 458.7M331.4 438.1L324.0 450.0M324.0 450.0L328.4 448.6M324.0 450.0L323.4 445.5M331.4 424.6L324.1 436.5M324.1 436.5L328.4 435.0M324.1 436.5L323.4 431.9M331.4 411.0L323.9 422.8M323.9 422.8L328.3 421.4M323.9 422.8L323.3 418.3M331.4 397.4L321.5 407.3M321.5 407.3L326.1 406.9M321.5 407.3L321.9 402.7M331.4 383.8L319.6 391.3M319.6 391.3L324.1 391.9M319.6 391.3L321.0 386.9M331.4 370.2L319.1 376.9M319.1 376.9L323.6 377.8M319.1 376.9L320.8 372.6M331.4 356.5L318.6 362.3M318.6 362.3L323.0 363.5M318.6 362.3L320.6 358.1M331.4 342.8L318.1 347.2M318.1 347.2L322.4 348.9M318.1 347.2L320.5 343.3M331.4 329.1L317.7 332.0M317.7 332.0L321.8 334.2M317.7 332.0L320.5 328.4M331.4 315.3L317.5 317.2M317.5 317.2L321.4 319.7M317.5 317.2L320.6 313.8M331.4 301.5L317.5 303.3M317.5 303.3L321.4 305.8M317.5 303.3L320.6 299.9M331.4 287.6L317.6 290.2M317.6 290.2L321.6 292.5M317.6 290.2L320.6 286.7M331.4 273.7L318.0 277.7M318.0 277.7L322.2 279.5M318.0 277.7L320.5 273.8M331.4 259.7L318.3 264.5M318.3 264.5L322.6 266.1M318.3 264.5L320.5 260.6M331.4 245.7L319.0 252.2M319.0 252.2L323.5 253.2M319.0 252.2L320.8 248.0M331.4 231.6L319.2 238.5M319.2 238.5L323.8 239.3M319.2 238.5L320.8 234.2M331.4 217.4L318.7 223.3M318.7 223.3L323.1 224.5M318.7 223.3L320.7 219.1M331.4 203.1L318.1 207.5M318.1 207.5L322.4 209.2M318.1 207.5L320.5 203.6M331.4 188.7L317.6 191.3M317.6 191.3L321.7 193.6M317.6 191.3L320.6 187.8M331.4 174.3L317.4 175.3M317.4 175.3L321.2 178.0M317.4 175.3L320.7 172.1M331.4 159.7L317.4 160.8M317.4 160.8L321.2 163.5M317.4 160.8L320.7 157.6M331.4 145.1L317.4 145.8M317.4 145.8L321.1 148.6M317.4 145.8L320.8 142.7M331.4 130.3L317.4 130.7M317.4 130.7L321.0 133.6M317.4 130.7L320.8 127.7M331.4 115.4L317.4 115.7M317.4 115.7L321.0 118.6M317.4 115.7L320.9 112.7M331.4 100.4L317.4 100.7M317.4 100.7L321.0 103.6M317.4 100.7L320.9 97.7M331.4 85.3L317.4 85.6M317.4 85.6L321.0 88.5M317.4 85.6L320.9 82.6M331.4 70.0L317.4 70.2M317.4 70.2L321.0 73.1M317.4 70.2L320.9 67.2M331.4 54.6L317.4 54.6M317.4 54.6L320.9 57.6M317.4 54.6L320.9 51.7M331.4 39.0L317.4 38.8M317.4 38.8L320.9 41.8M317.4 38.8L321.0 35.9M345.0 465.2L334.9 475.0M334.9 475.0L339.5 474.6M334.9 475.0L335.4 470.4M345.0 451.7L335.5 462.0M335.5 462.0L340.1 461.4M335.5 462.0L335.7 457.4M345.0 438.1L336.0 448.9M336.0 448.9L340.6 448.1M336.0 448.9L336.0 444.3M345.0 424.6L336.3 435.6M336.3 435.6L340.8 434.6M336.3 435.6L336.2 431.0M345.0 411.0L336.1 421.8M336.1 421.8L340.6 421.0M336.1 421.8L336.0 417.2M345.0 397.4L334.5 406.8M334.5 406.8L339.1 406.6M334.5 406.8L335.2 402.2M345.0 383.8L333.1 391.2M333.1 391.2L337.7 391.9M333.1 391.2L334.5 386.8M345.0 370.2L332.3 376.1M332.3 376.1L336.7 377.3M332.3 376.1L334.2 371.9M345.0 356.5L332.3 362.4M332.3 362.4L336.7 363.6M332.3 362.4L334.2 358.2M345.0 342.8L331.7 347.2M331.7 347.2L335.9 348.9M331.7 347.2L334.1 343.3M345.0 329.1L331.2 331.6M331.2 331.6L335.2 333.9M331.2 331.6L334.1 328.0M345.0 315.3L331.0 316.6M331.0 316.6L334.8 319.2M331.0 316.6L334.3 313.3M345.0 301.5L331.0 302.8M331.0 302.8L334.8 305.4M331.0 302.8L334.3 299.5M345.0 287.6L331.2 290.1M331.2 290.1L335.2 292.4M331.2 290.1L334.1 286.6M345.0 273.7L331.5 277.4M331.5 277.4L335.6 279.3M331.5 277.4L334.1 273.6M345.0 259.7L332.1 265.2M332.1 265.2L336.5 266.6M332.1 265.2L334.2 261.1M345.0 245.7L332.9 252.8M332.9 252.8L337.4 253.5M332.9 252.8L334.4 248.4M345.0 231.6L333.0 238.8M333.0 238.8L337.5 239.5M333.0 238.8L334.5 234.5M345.0 217.4L332.5 223.7M332.5 223.7L337.0 224.7M332.5 223.7L334.3 219.4M345.0 203.1L331.8 207.9M331.8 207.9L336.1 209.4M331.8 207.9L334.1 203.9M345.0 188.7L331.4 192.1M331.4 192.1L335.5 194.1M331.4 192.1L334.1 188.4M345.0 174.3L331.1 176.4M331.1 176.4L335.1 178.8M331.1 176.4L334.2 172.9M345.0 159.7L331.1 161.6M331.1 161.6L335.0 164.0M331.1 161.6L334.2 158.2M345.0 145.1L331.1 147.0M331.1 147.0L335.0 149.5M331.1 147.0L334.2 143.6M345.0 130.3L331.1 132.4M331.1 132.4L335.0 134.8M331.1 132.4L334.2 128.9M345.0 115.4L331.1 117.5M331.1 117.5L335.1 119.9M331.1 117.5L334.2 114.1M345.0 100.4L331.1 102.4M331.1 102.4L335.0 104.8M331.1 102.4L334.2 99.0M345.0 85.3L331.1 86.9M331.1 86.9L334.9 89.5M331.1 86.9L334.2 83.6M345.0 70.0L331.0 71.2M331.0 71.2L334.8 73.9M331.0 71.2L334.3 68.0M345.0 54.6L331.0 55.3M331.0 55.3L334.7 58.1M331.0 55.3L334.4 52.1M345.0 39.0L331.0 39.1M331.0 39.1L334.5 42.1M331.0 39.1L334.5 36.2M358.5 465.2L347.1 473.3M347.1 473.3L351.7 473.6M347.1 473.3L348.3 468.8M358.5 451.7L347.3 460.0M347.3 460.0L351.9 460.3M347.3 460.0L348.4 455.5M358.5 438.1L347.6 446.8M347.6 446.8L352.2 446.9M347.6 446.8L348.5 442.3M358.5 424.6L347.9 433.7M347.9 433.7L352.5 433.6M347.9 433.7L348.7 429.1M358.5 411.0L348.0 420.2M348.0 420.2L352.6 420.1M348.0 420.2L348.7 415.7M358.5 397.4L348.1 406.7M348.1 406.7L352.7 406.6M348.1 406.7L348.8 402.2M358.5 383.8L346.7 391.2M346.7 391.2L351.2 391.9M346.7 391.2L348.1 386.9M358.5 370.2L346.1 376.7M346.1 376.7L350.6 377.6M346.1 376.7L347.9 372.4M358.5 356.5L345.8 362.3M345.8 362.3L350.2 363.5M345.8 362.3L347.8 358.2M358.5 342.8L345.3 347.3M345.3 347.3L349.6 349.0M345.3 347.3L347.7 343.4M358.5 329.1L344.9 332.1M344.9 332.1L348.9 334.2M344.9 332.1L347.7 328.4M358.5 315.3L344.7 317.3M344.7 317.3L348.6 319.8M344.7 317.3L347.8 313.9M358.5 301.5L344.7 303.6M344.7 303.6L348.6 306.0M344.7 303.6L347.8 300.1M358.5 287.6L344.9 290.7M344.9 290.7L349.0 292.8M344.9 290.7L347.7 287.1M358.5 273.7L345.5 278.9M345.5 278.9L349.9 280.3M345.5 278.9L347.7 274.8M358.5 259.7L346.4 266.7M346.4 266.7L351.0 267.5M346.4 266.7L348.0 262.4M358.5 245.7L347.5 254.3M347.5 254.3L352.1 254.4M347.5 254.3L348.5 249.8M358.5 231.6L347.4 240.0M347.4 240.0L351.9 240.2M347.4 240.0L348.4 235.5M358.5 217.4L347.1 225.4M347.1 225.4L351.6 225.8M347.1 225.4L348.3 220.9M358.5 203.1L346.0 209.2M346.0 209.2L350.4 210.3M346.0 209.2L347.8 205.0M358.5 188.7L345.0 192.3M345.0 192.3L349.2 194.2M345.0 192.3L347.7 188.5M358.5 174.3L344.6 175.8M344.6 175.8L348.5 178.3M344.6 175.8L347.8 172.5M358.5 159.7L344.7 161.7M344.7 161.7L348.6 164.1M344.7 161.7L347.8 158.2M358.5 145.1L344.7 147.2M344.7 147.2L348.7 149.6M344.7 147.2L347.7 143.8M358.5 130.3L344.9 133.3M344.9 133.3L349.0 135.4M344.9 133.3L347.7 129.7M358.5 115.4L345.0 118.9M345.0 118.9L349.1 120.9M345.0 118.9L347.7 115.1M358.5 100.4L344.9 103.7M344.9 103.7L349.1 105.7M344.9 103.7L347.7 100.0M358.5 85.3L344.8 88.0M344.8 88.0L348.8 90.2M344.8 88.0L347.7 84.4M358.5 70.0L344.7 71.9M344.7 71.9L348.6 74.4M344.7 71.9L347.8 68.5M358.5 54.6L344.6 55.6M344.6 55.6L348.3 58.3M344.6 55.6L347.9 52.4M358.5 39.0L344.6 39.2M344.6 39.2L348.1 42.1M344.6 39.2L348.1 36.2M372.1 465.2L359.8 471.8M359.8 471.8L364.3 472.8M359.8 471.8L361.5 467.6M372.1 451.7L359.7 458.0M359.7 458.0L364.1 459.1M359.7 458.0L361.4 453.8M372.1 438.1L359.5 444.2M359.5 444.2L364.0 445.3M359.5 444.2L361.4 440.0M372.1 424.6L359.7 431.0M359.7 431.0L364.2 432.0M359.7 431.0L361.5 426.8M372.1 411.0L360.6 418.9M360.6 418.9L365.2 419.4M360.6 418.9L361.8 414.5M372.1 397.4L361.0 405.9M361.0 405.9L365.6 406.1M361.0 405.9L362.0 401.4M372.1 383.8L360.0 390.8M360.0 390.8L364.5 391.6M360.0 390.8L361.6 386.5M372.1 370.2L359.4 376.1M359.4 376.1L363.9 377.3M359.4 376.1L361.4 371.9M372.1 356.5L359.8 363.2M359.8 363.2L364.3 364.1M359.8 363.2L361.5 358.9M372.1 342.8L359.3 348.4M359.3 348.4L363.7 349.7M359.3 348.4L361.3 344.3M372.1 329.1L358.6 332.7M358.6 332.7L362.7 334.6M358.6 332.7L361.2 328.9M372.1 315.3L358.3 317.8M358.3 317.8L362.3 320.1M358.3 317.8L361.3 314.3M372.1 301.5L358.4 304.5M358.4 304.5L362.5 306.6M358.4 304.5L361.3 300.9M372.1 287.6L358.8 292.1M358.8 292.1L363.1 293.8M358.8 292.1L361.3 288.1M372.1 273.7L359.5 279.8M359.5 279.8L364.0 281.0M359.5 279.8L361.4 275.6M372.1 259.7L360.4 267.4M360.4 267.4L365.0 267.9M360.4 267.4L361.7 263.0M372.1 245.7L361.2 254.5M361.2 254.5L365.8 254.6M361.2 254.5L362.1 250.0M372.1 231.6L361.4 240.6M361.4 240.6L366.0 240.6M361.4 240.6L362.2 236.1M372.1 217.4L360.8 225.6M360.8 225.6L365.4 225.9M360.8 225.6L361.9 221.2M372.1 203.1L360.0 210.0M360.0 210.0L364.5 210.9M360.0 210.0L361.6 205.7M372.1 188.7L358.7 192.6M358.7 192.6L362.9 194.5M358.7 192.6L361.2 188.8M372.1 174.3L358.4 177.1M358.4 177.1L362.5 179.3M358.4 177.1L361.3 173.5M372.1 159.7L358.4 162.2M358.4 162.2L362.4 164.5M358.4 162.2L361.3 158.7M372.1 145.1L358.5 148.4M358.5 148.4L362.7 150.4M358.5 148.4L361.2 144.7M372.1 130.3L359.0 135.0M359.0 135.0L363.3 136.6M359.0 135.0L361.3 131.1M372.1 115.4L359.1 120.4M359.1 120.4L363.4 121.9M359.1 120.4L361.3 116.4M372.1 100.4L358.9 104.9M358.9 104.9L363.2 106.6M358.9 104.9L361.3 101.0M372.1 85.3L358.6 88.8M358.6 88.8L362.7 90.8M358.6 88.8L361.2 85.0M372.1 70.0L358.3 72.3M358.3 72.3L362.3 74.6M358.3 72.3L361.3 68.8M372.1 54.6L358.2 55.5M358.2 55.5L361.9 58.3M358.2 55.5L361.5 52.4M372.1 39.0L358.1 38.8M358.1 38.8L361.6 41.8M358.1 38.8L361.7 35.9M385.7 465.2L373.2 471.4M373.2 471.4L377.6 472.5M373.2 471.4L375.0 467.2M385.7 451.7L372.9 457.2M372.9 457.2L377.3 458.5M372.9 457.2L374.9 453.1M385.7 438.1L372.5 442.6M372.5 442.6L376.7 444.3M372.5 442.6L374.8 438.7M385.7 424.6L372.3 428.5M372.3 428.5L376.5 430.4M372.3 428.5L374.8 424.7M385.7 411.0L372.4 415.5M372.4 415.5L376.7 417.2M372.4 415.5L374.8 411.6M385.7 397.4L372.9 403.2M372.9 403.2L377.4 404.4M372.9 403.2L374.9 399.0M385.7 383.8L373.3 390.4M373.3 390.4L377.8 391.3M373.3 390.4L375.1 386.1M385.7 370.2L373.6 377.2M373.6 377.2L378.1 378.0M373.6 377.2L375.2 372.9M385.7 356.5L374.2 364.5M374.2 364.5L378.8 364.9M374.2 364.5L375.4 360.1M385.7 342.8L373.0 348.7M373.0 348.7L377.4 349.9M373.0 348.7L375.0 344.6M385.7 329.1L372.0 332.1M372.0 332.1L376.1 334.2M372.0 332.1L374.8 328.4M385.7 315.3L371.8 316.9M371.8 316.9L375.6 319.4M371.8 316.9L375.0 313.5M385.7 301.5L371.9 304.0M371.9 304.0L375.9 306.3M371.9 304.0L374.9 300.5M385.7 287.6L372.4 292.0M372.4 292.0L376.7 293.7M372.4 292.0L374.8 288.1M385.7 273.7L373.0 279.7M373.0 279.7L377.5 280.8M373.0 279.7L375.0 275.5M385.7 259.7L374.4 268.0M374.4 268.0L379.0 268.3M374.4 268.0L375.5 263.5M385.7 245.7L375.8 255.6M375.8 255.6L380.4 255.2M375.8 255.6L376.2 251.0M385.7 231.6L376.3 241.9M376.3 241.9L380.9 241.3M376.3 241.9L376.5 237.3M385.7 217.4L375.8 227.2M375.8 227.2L380.4 226.8M375.8 227.2L376.2 222.7M385.7 203.1L374.0 210.8M374.0 210.8L378.6 211.3M374.0 210.8L375.3 206.4M385.7 188.7L372.4 193.2M372.4 193.2L376.7 194.8M372.4 193.2L374.8 189.2M385.7 174.3L371.9 176.7M371.9 176.7L375.9 179.0M371.9 176.7L374.9 173.2M385.7 159.7L371.9 162.2M371.9 162.2L375.9 164.5M371.9 162.2L374.9 158.7M385.7 145.1L373.1 151.2M373.1 151.2L377.6 152.3M373.1 151.2L375.0 147.0M385.7 130.3L373.9 137.8M373.9 137.8L378.4 138.4M373.9 137.8L375.3 133.4M385.7 115.4L373.4 122.1M373.4 122.1L377.9 123.0M373.4 122.1L375.1 117.8M385.7 100.4L372.9 106.0M372.9 106.0L377.3 107.3M372.9 106.0L374.9 101.9M385.7 85.3L372.3 89.4M372.3 89.4L376.6 91.2M372.3 89.4L374.8 85.6M385.7 70.0L371.9 72.3M371.9 72.3L375.8 74.6M371.9 72.3L374.9 68.8M385.7 54.6L371.7 55.0M371.7 55.0L375.3 57.9M371.7 55.0L375.1 52.0M385.7 39.0L371.7 38.0M371.7 38.0L375.0 41.2M371.7 38.0L375.5 35.3M399.3 465.2L386.9 471.8M386.9 471.8L391.4 472.8M386.9 471.8L388.6 467.6M399.3 451.7L386.5 457.4M386.5 457.4L391.0 458.7M386.5 457.4L388.5 453.3M399.3 438.1L386.0 442.5M386.0 442.5L390.3 444.2M386.0 442.5L388.4 438.6M399.3 424.6L385.8 428.2M385.8 428.2L389.9 430.1M385.8 428.2L388.4 424.4M399.3 411.0L385.6 413.9M385.6 413.9L389.6 416.1M385.6 413.9L388.4 410.3M399.3 397.4L385.5 400.2M385.5 400.2L389.6 402.4M385.5 400.2L388.4 396.6M399.3 383.8L386.8 390.1M386.8 390.1L391.3 391.2M386.8 390.1L388.6 385.9M399.3 370.2L388.6 379.2M388.6 379.2L393.2 379.2M388.6 379.2L389.4 374.7M399.3 356.5L387.7 364.4M387.7 364.4L392.3 364.9M387.7 364.4L388.9 360.0M399.3 342.8L387.0 349.5M387.0 349.5L391.5 350.4M387.0 349.5L388.7 345.2M399.3 329.1L386.2 334.1M386.2 334.1L390.5 335.6M386.2 334.1L388.4 330.0M399.3 315.3L386.2 320.3M386.2 320.3L390.5 321.8M386.2 320.3L388.4 316.3M399.3 301.5L385.9 305.6M385.9 305.6L390.1 307.4M385.9 305.6L388.4 301.8M399.3 287.6L386.2 292.6M386.2 292.6L390.5 294.1M386.2 292.6L388.4 288.6M399.3 273.7L387.1 280.6M387.1 280.6L391.6 281.4M387.1 280.6L388.7 276.3M399.3 259.7L388.5 268.6M388.5 268.6L393.1 268.7M388.5 268.6L389.3 264.1M399.3 245.7L389.8 256.0M389.8 256.0L394.3 255.4M389.8 256.0L390.0 251.4M399.3 231.6L390.3 242.3M390.3 242.3L394.8 241.5M390.3 242.3L390.3 237.7M399.3 217.4L389.4 227.3M389.4 227.3L394.0 226.9M389.4 227.3L389.8 222.7M399.3 203.1L387.9 211.3M387.9 211.3L392.5 211.6M387.9 211.3L389.0 206.8M399.3 188.7L386.0 193.1M386.0 193.1L390.3 194.8M386.0 193.1L388.4 189.2M399.3 174.3L385.7 177.8M385.7 177.8L389.9 179.8M385.7 177.8L388.4 174.0M399.3 159.7L386.3 164.9M386.3 164.9L390.6 166.3M386.3 164.9L388.4 160.8M399.3 145.1L389.3 154.9M389.3 154.9L393.9 154.5M389.3 154.9L389.7 150.3M399.3 130.3L388.2 138.9M388.2 138.9L392.8 139.1M388.2 138.9L389.2 134.4M399.3 115.4L387.6 123.1M387.6 123.1L392.1 123.6M387.6 123.1L388.9 118.7M399.3 100.4L386.9 107.0M386.9 107.0L391.4 108.0M386.9 107.0L388.6 102.8M399.3 85.3L386.0 89.8M386.0 89.8L390.3 91.5M386.0 89.8L388.4 85.9M399.3 70.0L385.4 71.8M385.4 71.8L389.3 74.3M385.4 71.8L388.5 68.4M399.3 54.6L385.3 53.9M385.3 53.9L388.7 57.1M385.3 53.9L389.0 51.1M399.3 39.0L385.5 36.6M385.5 36.6L388.4 40.1M385.5 36.6L389.5 34.3M412.9 465.2L400.7 472.2M400.7 472.2L405.2 473.0M400.7 472.2L402.3 467.9M412.9 451.7L400.2 457.6M400.2 457.6L404.6 458.8M400.2 457.6L402.1 453.4M412.9 438.1L399.7 442.9M399.7 442.9L404.0 444.5M399.7 442.9L402.0 438.9M412.9 424.6L399.2 427.7M399.2 427.7L403.3 429.8M399.2 427.7L402.0 424.1M412.9 411.0L399.0 412.8M399.0 412.8L402.8 415.2M399.0 412.8L402.1 409.4M412.9 397.4L399.0 399.2M399.0 399.2L402.8 401.7M399.0 399.2L402.1 395.8M412.9 383.8L400.4 390.2M400.4 390.2L404.9 391.2M400.4 390.2L402.2 386.0M412.9 370.2L403.5 380.6M403.5 380.6L408.0 379.9M403.5 380.6L403.6 376.0M412.9 356.5L402.4 365.9M402.4 365.9L407.0 365.7M402.4 365.9L403.1 361.3M412.9 342.8L401.4 350.9M401.4 350.9L406.0 351.3M401.4 350.9L402.6 346.4M412.9 329.1L399.8 334.1M399.8 334.1L404.1 335.6M399.8 334.1L402.0 330.0M412.9 315.3L402.0 324.1M402.0 324.1L406.6 324.2M402.0 324.1L402.8 319.6M412.9 301.5L400.2 307.5M400.2 307.5L404.7 308.7M400.2 307.5L402.1 303.3M412.9 287.6L400.3 293.8M400.3 293.8L404.7 294.9M400.3 293.8L402.1 289.6M412.9 273.7L401.5 282.0M401.5 282.0L406.1 282.3M401.5 282.0L402.6 277.5M412.9 259.7L402.5 269.1M402.5 269.1L407.1 269.0M402.5 269.1L403.1 264.6M412.9 245.7L404.8 257.1M404.8 257.1L409.2 255.9M404.8 257.1L404.4 252.5M412.9 231.6L405.4 243.4M405.4 243.4L409.8 242.0M405.4 243.4L404.8 238.9M412.9 217.4L404.8 228.8M404.8 228.8L409.2 227.6M404.8 228.8L404.4 224.2M412.9 203.1L402.1 212.1M402.1 212.1L406.7 212.1M402.1 212.1L402.9 207.6M412.9 188.7L399.7 193.6M399.7 193.6L404.1 195.1M399.7 193.6L402.0 189.6M412.9 174.3L399.1 176.8M399.1 176.8L403.1 179.0M399.1 176.8L402.0 173.2M412.9 159.7L399.1 162.3M399.1 162.3L403.1 164.6M399.1 162.3L402.0 158.8M412.9 145.1L402.7 154.7M402.7 154.7L407.3 154.4M402.7 154.7L403.2 150.2M412.9 130.3L401.4 138.3M401.4 138.3L406.0 138.7M401.4 138.3L402.6 133.9M412.9 115.4L401.6 123.8M401.6 123.8L406.2 124.1M401.6 123.8L402.7 119.3M412.9 100.4L401.2 108.2M401.2 108.2L405.8 108.7M401.2 108.2L402.5 103.7M412.9 85.3L399.6 89.9M399.6 89.9L404.0 91.6M399.6 89.9L402.0 86.0M412.9 70.0L398.9 70.6M398.9 70.6L402.5 73.4M398.9 70.6L402.3 67.5M412.9 54.6L399.1 52.1M399.1 52.1L402.0 55.6M399.1 52.1L403.1 49.8M412.9 39.0L399.5 34.8M399.5 34.8L402.0 38.7M399.5 34.8L403.8 33.0M426.4 465.2L414.4 472.3M414.4 472.3L418.9 473.1M414.4 472.3L415.9 468.0M426.4 451.7L414.3 458.6M414.3 458.6L418.8 459.4M414.3 458.6L415.9 454.3M426.4 438.1L413.5 443.6M413.5 443.6L417.9 444.9M413.5 443.6L415.6 439.5M426.4 424.6L413.0 428.4M413.0 428.4L417.2 430.3M413.0 428.4L415.5 424.6M426.4 411.0L412.6 413.5M412.6 413.5L416.6 415.7M412.6 413.5L415.6 409.9M426.4 397.4L412.7 400.3M412.7 400.3L416.8 402.5M412.7 400.3L415.6 396.7M426.4 383.8L414.5 391.1M414.5 391.1L419.0 391.8M414.5 391.1L415.9 386.7M426.4 370.2L416.4 379.9M416.4 379.9L420.9 379.6M416.4 379.9L416.8 375.3M426.4 356.5L417.0 366.9M417.0 366.9L421.6 366.3M417.0 366.9L417.2 362.3M426.4 342.8L416.5 352.7M416.5 352.7L421.1 352.3M416.5 352.7L416.9 348.1M426.4 329.1L414.5 336.5M414.5 336.5L419.1 337.1M414.5 336.5L416.0 332.1M426.4 315.3L412.7 318.1M412.7 318.1L416.7 320.3M412.7 318.1L415.6 314.5M426.4 301.5L412.9 305.2M412.9 305.2L417.1 307.2M412.9 305.2L415.5 301.5M426.4 287.6L413.7 293.6M413.7 293.6L418.2 294.8M413.7 293.6L415.7 289.4M426.4 273.7L414.6 281.2M414.6 281.2L419.1 281.8M414.6 281.2L416.0 276.8M426.4 259.7L416.5 269.6M416.5 269.6L421.1 269.2M416.5 269.6L416.9 265.0M426.4 245.7L418.3 257.1M418.3 257.1L422.8 255.9M418.3 257.1L418.0 252.5M426.4 231.6L419.8 243.9M419.8 243.9L424.1 242.2M419.8 243.9L418.9 239.4M426.4 217.4L420.3 230.0M420.3 230.0L424.5 228.1M420.3 230.0L419.2 225.5M426.4 203.1L415.4 211.7M415.4 211.7L420.0 211.9M415.4 211.7L416.4 207.2M426.4 188.7L413.1 193.1M413.1 193.1L417.4 194.8M413.1 193.1L415.6 189.2M426.4 174.3L412.8 177.6M412.8 177.6L416.9 179.6M412.8 177.6L415.5 173.9M426.4 159.7L413.0 163.6M413.0 163.6L417.2 165.5M413.0 163.6L415.5 159.8M426.4 145.1L413.7 151.0M413.7 151.0L418.2 152.2M413.7 151.0L415.7 146.8M426.4 130.3L414.7 138.0M414.7 138.0L419.3 138.5M414.7 138.0L416.1 133.6M426.4 115.4L416.0 124.7M416.0 124.7L420.6 124.6M416.0 124.7L416.6 120.2M426.4 100.4L415.2 108.7M415.2 108.7L419.7 109.0M415.2 108.7L416.2 104.2M426.4 85.3L412.9 88.9M412.9 88.9L417.1 90.8M412.9 88.9L415.5 85.1M426.4 70.0L412.6 68.1M412.6 68.1L415.6 71.5M412.6 68.1L416.4 65.7M426.4 54.6L413.3 49.6M413.3 49.6L415.6 53.6M413.3 49.6L417.7 48.1M426.4 39.0L413.9 32.8M413.9 32.8L415.7 37.0M413.9 32.8L418.4 31.7M440.0 465.2L428.5 473.2M428.5 473.2L433.1 473.6M428.5 473.2L429.7 468.8M440.0 451.7L427.8 458.6M427.8 458.6L432.3 459.4M427.8 458.6L429.4 454.3M440.0 438.1L427.0 443.3M427.0 443.3L431.4 444.8M427.0 443.3L429.2 439.3M440.0 424.6L426.4 427.7M426.4 427.7L430.5 429.8M426.4 427.7L429.1 424.1M440.0 411.0L426.1 412.8M426.1 412.8L430.0 415.2M426.1 412.8L429.2 409.4M440.0 397.4L426.1 399.3M426.1 399.3L430.0 401.7M426.1 399.3L429.2 395.9M440.0 383.8L429.5 393.1M429.5 393.1L434.1 392.9M429.5 393.1L430.2 388.5M440.0 370.2L429.3 379.3M429.3 379.3L433.9 379.2M429.3 379.3L430.1 374.7M440.0 356.5L430.0 366.3M430.0 366.3L434.6 366.0M430.0 366.3L430.4 361.7M440.0 342.8L429.8 352.5M429.8 352.5L434.4 352.2M429.8 352.5L430.4 347.9M440.0 329.1L430.1 339.0M430.1 339.0L434.6 338.6M430.1 339.0L430.5 334.4M440.0 315.3L430.0 325.1M430.0 325.1L434.5 324.8M430.0 325.1L430.4 320.5M440.0 301.5L427.9 308.5M427.9 308.5L432.4 309.3M427.9 308.5L429.5 304.2M440.0 287.6L427.6 294.2M427.6 294.2L432.1 295.1M427.6 294.2L429.4 289.9M440.0 273.7L428.4 281.6M428.4 281.6L433.0 282.1M428.4 281.6L429.7 277.2M440.0 259.7L431.1 270.5M431.1 270.5L435.6 269.7M431.1 270.5L431.0 265.9M440.0 245.7L434.0 258.3M434.0 258.3L438.2 256.4M434.0 258.3L432.9 253.9M440.0 231.6L433.5 244.0M433.5 244.0L437.8 242.2M433.5 244.0L432.5 239.5M440.0 217.4L435.6 230.7M435.6 230.7L439.5 228.2M435.6 230.7L433.9 226.4M440.0 203.1L428.0 210.2M428.0 210.2L432.5 211.0M428.0 210.2L429.5 205.9M440.0 188.7L426.8 193.5M426.8 193.5L431.1 195.1M426.8 193.5L429.1 189.5M440.0 174.3L426.1 176.0M426.1 176.0L430.0 178.5M426.1 176.0L429.2 172.7M440.0 159.7L426.1 161.7M426.1 161.7L430.0 164.1M426.1 161.7L429.2 158.3M440.0 145.1L426.2 147.7M426.2 147.7L430.3 149.9M426.2 147.7L429.2 144.1M440.0 130.3L429.5 139.5M429.5 139.5L434.1 139.4M429.5 139.5L430.2 135.0M440.0 115.4L428.5 123.4M428.5 123.4L433.1 123.8M428.5 123.4L429.7 118.9M440.0 100.4L427.7 107.0M427.7 107.0L432.2 108.0M427.7 107.0L429.4 102.8M440.0 85.3L426.1 87.2M426.1 87.2L430.0 89.7M426.1 87.2L429.2 83.8M440.0 70.0L426.9 65.1M426.9 65.1L429.2 69.1M426.9 65.1L431.3 63.5M440.0 54.6L428.0 47.4M428.0 47.4L429.5 51.7M428.0 47.4L432.5 46.7M440.0 39.0L428.4 31.2M428.4 31.2L429.7 35.6M428.4 31.2L433.0 30.7M453.6 465.2L441.7 472.6M441.7 472.6L446.2 473.3M441.7 472.6L443.1 468.2M453.6 451.7L441.4 458.6M441.4 458.6L446.0 459.4M441.4 458.6L443.0 454.3M453.6 438.1L441.0 444.2M441.0 444.2L445.4 445.4M441.0 444.2L442.9 440.0M453.6 424.6L440.3 429.0M440.3 429.0L444.6 430.7M440.3 429.0L442.7 425.1M453.6 411.0L439.9 414.0M439.9 414.0L444.0 416.2M439.9 414.0L442.7 410.4M453.6 397.4L439.9 400.6M439.9 400.6L444.1 402.7M439.9 400.6L442.7 396.9M453.6 383.8L441.4 390.8M441.4 390.8L445.9 391.6M441.4 390.8L443.0 386.4M453.6 370.2L443.0 379.3M443.0 379.3L447.6 379.3M443.0 379.3L443.7 374.8M453.6 356.5L443.7 366.4M443.7 366.4L448.2 366.0M443.7 366.4L444.1 361.8M453.6 342.8L443.7 352.7M443.7 352.7L448.2 352.3M443.7 352.7L444.1 348.1M453.6 329.1L442.9 338.2M442.9 338.2L447.5 338.2M442.9 338.2L443.7 333.7M453.6 315.3L442.6 324.1M442.6 324.1L447.2 324.2M442.6 324.1L443.5 319.5M453.6 301.5L442.1 309.5M442.1 309.5L446.7 309.9M442.1 309.5L443.3 305.1M453.6 287.6L441.9 295.3M441.9 295.3L446.5 295.9M441.9 295.3L443.2 290.9M453.6 273.7L442.1 281.7M442.1 281.7L446.7 282.1M442.1 281.7L443.3 277.3M453.6 259.7L444.2 270.1M444.2 270.1L448.8 269.5M444.2 270.1L444.4 265.6M453.6 245.7L446.2 257.6M446.2 257.6L450.5 256.1M446.2 257.6L445.5 253.0M453.6 231.6L445.3 242.8M445.3 242.8L449.8 241.8M445.3 242.8L445.0 238.3M453.6 217.4L445.1 228.5M445.1 228.5L449.6 227.5M445.1 228.5L444.9 223.9M453.6 203.1L441.1 209.4M441.1 209.4L445.6 210.5M441.1 209.4L442.9 205.2M453.6 188.7L440.1 192.4M440.1 192.4L444.2 194.3M440.1 192.4L442.7 188.6M453.6 174.3L439.8 176.9M439.8 176.9L443.8 179.1M439.8 176.9L442.7 173.3M453.6 159.7L439.6 160.5M439.6 160.5L443.3 163.3M439.6 160.5L442.9 157.4M453.6 145.1L439.7 147.0M439.7 147.0L443.6 149.5M439.7 147.0L442.8 143.6M453.6 130.3L440.1 133.9M440.1 133.9L444.2 135.9M440.1 133.9L442.7 130.1M453.6 115.4L439.9 118.5M439.9 118.5L444.0 120.6M439.9 118.5L442.7 114.9M453.6 100.4L442.0 108.3M442.0 108.3L446.6 108.7M442.0 108.3L443.2 103.9M453.6 85.3L439.7 83.6M439.7 83.6L442.8 86.9M439.7 83.6L443.5 81.1M453.6 70.0L441.8 62.5M441.8 62.5L443.1 66.9M441.8 62.5L446.3 61.9M453.6 54.6L442.5 46.1M442.5 46.1L443.5 50.6M442.5 46.1L447.1 45.9M453.6 39.0L442.6 30.3M442.6 30.3L443.5 34.8M442.6 30.3L447.2 30.2M467.1 465.2L455.8 473.4M455.8 473.4L460.4 473.8M455.8 473.4L456.9 469.0M467.1 451.7L455.0 458.7M455.0 458.7L459.6 459.5M455.0 458.7L456.6 454.4M467.1 438.1L454.5 444.0M454.5 444.0L458.9 445.2M454.5 444.0L456.4 439.9M467.1 424.6L453.9 429.1M453.9 429.1L458.2 430.8M453.9 429.1L456.3 425.2M467.1 411.0L453.5 414.2M453.5 414.2L457.6 416.3M453.5 414.2L456.3 410.5M467.1 397.4L453.4 399.9M453.4 399.9L457.4 402.2M453.4 399.9L456.3 396.4M467.1 383.8L453.7 387.8M453.7 387.8L458.0 389.7M453.7 387.8L456.3 384.0M467.1 370.2L456.3 379.0M456.3 379.0L460.9 379.1M456.3 379.0L457.2 374.5M467.1 356.5L456.7 365.9M456.7 365.9L461.3 365.7M456.7 365.9L457.4 361.3M467.1 342.8L456.3 351.7M456.3 351.7L460.9 351.7M456.3 351.7L457.2 347.2M467.1 329.1L455.7 337.2M455.7 337.2L460.3 337.6M455.7 337.2L456.9 332.7M467.1 315.3L456.4 324.3M456.4 324.3L461.0 324.3M456.4 324.3L457.2 319.8M467.1 301.5L455.2 308.8M455.2 308.8L459.8 309.5M455.2 308.8L456.7 304.5M467.1 287.6L454.8 294.3M454.8 294.3L459.3 295.2M454.8 294.3L456.5 290.0M467.1 273.7L454.8 280.3M454.8 280.3L459.3 281.3M454.8 280.3L456.5 276.1M467.1 259.7L455.0 266.6M455.0 266.6L459.5 267.5M455.0 266.6L456.6 262.3M467.1 245.7L454.9 252.5M454.9 252.5L459.4 253.4M454.9 252.5L456.6 248.2M467.1 231.6L454.4 237.3M454.4 237.3L458.8 238.5M454.4 237.3L456.4 233.1M467.1 217.4L453.9 222.0M453.9 222.0L458.2 223.6M453.9 222.0L456.3 218.0M467.1 203.1L453.9 207.7M453.9 207.7L458.2 209.3M453.9 207.7L456.3 203.7M467.1 188.7L454.0 193.5M454.0 193.5L458.3 195.0M454.0 193.5L456.3 189.5M467.1 174.3L453.6 177.6M453.6 177.6L457.7 179.7M453.6 177.6L456.3 173.9M467.1 159.7L453.2 161.0M453.2 161.0L457.0 163.6M453.2 161.0L456.5 157.7M467.1 145.1L453.2 145.8M453.2 145.8L456.8 148.6M453.2 145.8L456.5 142.7M467.1 130.3L453.2 131.0M453.2 131.0L456.8 133.8M453.2 131.0L456.5 127.8M467.1 115.4L453.2 114.2M453.2 114.2L456.5 117.4M453.2 114.2L457.0 111.5M467.1 100.4L453.5 97.5M453.5 97.5L456.3 101.1M453.5 97.5L457.5 95.3M467.1 85.3L455.0 78.2M455.0 78.2L456.6 82.6M455.0 78.2L459.6 77.5M467.1 70.0L455.7 62.0M455.7 62.0L456.9 66.4M455.7 62.0L460.3 61.6M467.1 54.6L456.4 45.6M456.4 45.6L457.2 50.2M456.4 45.6L461.0 45.6M467.1 39.0L456.4 30.1M456.4 30.1L457.2 34.6M456.4 30.1L461.0 30.1M480.7 465.2L470.0 474.2M470.0 474.2L474.6 474.2M470.0 474.2L470.8 469.7M480.7 451.7L469.1 459.5M469.1 459.5L473.7 460.0M469.1 459.5L470.4 455.1M480.7 438.1L468.5 444.9M468.5 444.9L473.0 445.8M468.5 444.9L470.1 440.6M480.7 424.6L468.0 430.3M468.0 430.3L472.4 431.6M468.0 430.3L470.0 426.2M480.7 411.0L467.5 415.6M467.5 415.6L471.8 417.2M467.5 415.6L469.9 411.7M480.7 397.4L467.4 401.8M467.4 401.8L471.7 403.5M467.4 401.8L469.9 397.9M480.7 383.8L467.7 388.9M467.7 388.9L472.1 390.4M467.7 388.9L469.9 384.9M480.7 370.2L469.2 378.1M469.2 378.1L473.7 378.5M469.2 378.1L470.4 373.6M480.7 356.5L469.7 365.1M469.7 365.1L474.2 365.3M469.7 365.1L470.6 360.6M480.7 342.8L469.3 350.9M469.3 350.9L473.8 351.3M469.3 350.9L470.4 346.4M480.7 329.1L469.1 336.8M469.1 336.8L473.6 337.4M469.1 336.8L470.4 332.4M480.7 315.3L468.6 322.3M468.6 322.3L473.1 323.1M468.6 322.3L470.2 318.0M480.7 301.5L467.6 306.3M467.6 306.3L471.9 307.9M467.6 306.3L469.9 302.3M480.7 287.6L467.7 292.7M467.7 292.7L472.0 294.2M467.7 292.7L469.9 288.7M480.7 273.7L467.5 278.4M467.5 278.4L471.8 280.0M467.5 278.4L469.9 274.4M480.7 259.7L467.2 263.2M467.2 263.2L471.3 265.2M467.2 263.2L469.8 259.4M480.7 245.7L467.0 248.4M467.0 248.4L471.0 250.6M467.0 248.4L469.9 244.8M480.7 231.6L467.1 234.8M467.1 234.8L471.2 236.8M467.1 234.8L469.9 231.1M480.7 217.4L467.1 220.8M467.1 220.8L471.3 222.8M467.1 220.8L469.8 217.0M480.7 203.1L467.4 207.4M467.4 207.4L471.7 209.1M467.4 207.4L469.8 203.5M480.7 188.7L467.5 193.2M467.5 193.2L471.7 194.9M467.5 193.2L469.9 189.2M480.7 174.3L467.1 177.5M467.1 177.5L471.2 179.6M467.1 177.5L469.8 173.8M480.7 159.7L466.8 161.3M466.8 161.3L470.7 163.9M466.8 161.3L470.0 158.0M480.7 145.1L466.7 145.7M466.7 145.7L470.4 148.5M466.7 145.7L470.1 142.6M480.7 130.3L466.8 129.2M466.8 129.2L470.1 132.4M466.8 129.2L470.5 126.5M480.7 115.4L467.2 111.8M467.2 111.8L469.8 115.5M467.2 111.8L471.4 109.8M480.7 100.4L468.3 94.0M468.3 94.0L470.1 98.3M468.3 94.0L472.8 93.0M480.7 85.3L471.5 74.8M471.5 74.8L471.6 79.4M471.5 74.8L476.0 75.5M480.7 70.0L470.0 61.0M470.0 61.0L470.8 65.6M470.0 61.0L474.6 61.0M480.7 54.6L469.3 46.5M469.3 46.5L470.5 51.0M469.3 46.5L473.9 46.2M480.7 39.0L469.3 31.0M469.3 31.0L470.5 35.4M469.3 31.0L473.9 30.6M494.3 465.2L483.5 474.1M483.5 474.1L488.1 474.1M483.5 474.1L484.3 469.6M494.3 451.7L482.8 459.7M482.8 459.7L487.4 460.1M482.8 459.7L484.0 455.3M494.3 438.1L482.4 445.4M482.4 445.4L486.9 446.1M482.4 445.4L483.8 441.1M494.3 424.6L481.9 431.1M481.9 431.1L486.4 432.1M481.9 431.1L483.7 426.9M494.3 411.0L481.3 416.1M481.3 416.1L485.6 417.6M481.3 416.1L483.5 412.0M494.3 397.4L481.6 403.3M481.6 403.3L486.0 404.5M481.6 403.3L483.6 399.1M494.3 383.8L481.6 389.7M481.6 389.7L486.0 390.9M481.6 389.7L483.6 385.5M494.3 370.2L482.0 376.9M482.0 376.9L486.6 377.8M482.0 376.9L483.7 372.6M494.3 356.5L482.5 364.1M482.5 364.1L487.1 364.7M482.5 364.1L483.9 359.7M494.3 342.8L482.4 350.3M482.4 350.3L487.0 350.9M482.4 350.3L483.9 345.9M494.3 329.1L482.2 336.1M482.2 336.1L486.7 336.9M482.2 336.1L483.7 331.8M494.3 315.3L481.6 321.2M481.6 321.2L486.0 322.4M481.6 321.2L483.6 317.1M494.3 301.5L481.1 306.3M481.1 306.3L485.5 307.9M481.1 306.3L483.4 302.3M494.3 287.6L481.0 292.2M481.0 292.2L485.3 293.8M481.0 292.2L483.4 288.2M494.3 273.7L480.7 276.9M480.7 276.9L484.8 279.0M480.7 276.9L483.4 273.2M494.3 259.7L480.5 262.2M480.5 262.2L484.5 264.5M480.5 262.2L483.5 258.7M494.3 245.7L480.4 247.7M480.4 247.7L484.3 250.1M480.4 247.7L483.5 244.2M494.3 231.6L480.6 234.2M480.6 234.2L484.6 236.5M480.6 234.2L483.5 230.7M494.3 217.4L480.7 220.7M480.7 220.7L484.8 222.7M480.7 220.7L483.4 217.0M494.3 203.1L481.0 207.6M481.0 207.6L485.3 209.3M481.0 207.6L483.4 203.6M494.3 188.7L481.4 194.1M481.4 194.1L485.8 195.5M481.4 194.1L483.5 190.0M494.3 174.3L480.7 177.6M480.7 177.6L484.8 179.7M480.7 177.6L483.4 173.9M494.3 159.7L480.4 161.0M480.4 161.0L484.1 163.6M480.4 161.0L483.6 157.7M494.3 145.1L480.3 145.8M480.3 145.8L484.0 148.6M480.3 145.8L483.7 142.7M494.3 130.3L480.3 130.8M480.3 130.8L483.9 133.7M480.3 130.8L483.7 127.7M494.3 115.4L481.6 109.6M481.6 109.6L483.5 113.8M481.6 109.6L486.0 108.4M494.3 100.4L482.4 93.0M482.4 93.0L483.9 97.3M482.4 93.0L487.0 92.3M494.3 85.3L485.5 74.4M485.5 74.4L485.4 79.0M485.5 74.4L490.0 75.3M494.3 70.0L483.6 61.0M483.6 61.0L484.4 65.5M483.6 61.0L488.2 61.0M494.3 54.6L482.3 47.5M482.3 47.5L483.8 51.8M482.3 47.5L486.8 46.7M494.3 39.0L483.4 30.3M483.4 30.3L484.3 34.8M483.4 30.3L488.0 30.2M507.9 465.2L498.0 475.1M498.0 475.1L502.5 474.7M498.0 475.1L498.4 470.5M507.9 451.7L497.1 460.5M497.1 460.5L501.7 460.6M497.1 460.5L497.9 456.0M507.9 438.1L496.4 446.1M496.4 446.1L501.0 446.5M496.4 446.1L497.6 441.7M507.9 424.6L495.7 431.5M495.7 431.5L500.3 432.3M495.7 431.5L497.3 427.2M507.9 411.0L495.5 417.5M495.5 417.5L500.0 418.5M495.5 417.5L497.2 413.3M507.9 397.4L495.3 403.6M495.3 403.6L499.8 404.7M495.3 403.6L497.2 399.4M507.9 383.8L495.3 389.9M495.3 389.9L499.7 391.0M495.3 389.9L497.2 385.7M507.9 370.2L495.3 376.3M495.3 376.3L499.8 377.5M495.3 376.3L497.2 372.1M507.9 356.5L495.3 362.7M495.3 362.7L499.8 363.8M495.3 362.7L497.2 358.5M507.9 342.8L495.3 349.1M495.3 349.1L499.8 350.2M495.3 349.1L497.2 344.9M507.9 329.1L495.3 335.3M495.3 335.3L499.8 336.4M495.3 335.3L497.2 331.1M507.9 315.3L494.7 320.1M494.7 320.1L499.0 321.7M494.7 320.1L497.0 316.1M507.9 301.5L494.6 305.9M494.6 305.9L498.9 307.6M494.6 305.9L497.0 302.0M507.9 287.6L494.3 291.3M494.3 291.3L498.5 293.2M494.3 291.3L497.0 287.5M507.9 273.7L494.2 276.6M494.2 276.6L498.2 278.8M494.2 276.6L497.0 273.0M507.9 259.7L494.1 262.2M494.1 262.2L498.1 264.5M494.1 262.2L497.0 258.7M507.9 245.7L494.1 248.1M494.1 248.1L498.1 250.4M494.1 248.1L497.0 244.6M507.9 231.6L494.2 234.4M494.2 234.4L498.2 236.6M494.2 234.4L497.0 230.8M507.9 217.4L494.3 220.8M494.3 220.8L498.5 222.8M494.3 220.8L497.0 217.1M507.9 203.1L494.5 207.2M494.5 207.2L498.7 209.0M494.5 207.2L497.0 203.3M507.9 188.7L494.5 192.9M494.5 192.9L498.8 194.7M494.5 192.9L497.0 189.0M507.9 174.3L494.4 178.1M494.4 178.1L498.6 180.0M494.4 178.1L497.0 174.3M507.9 159.7L494.3 163.2M494.3 163.2L498.5 165.2M494.3 163.2L497.0 159.5M507.9 145.1L494.1 147.6M494.1 147.6L498.1 149.9M494.1 147.6L497.0 144.0M507.9 130.3L493.9 129.6M493.9 129.6L497.3 132.7M493.9 129.6L497.6 126.8M507.9 115.4L495.1 109.8M495.1 109.8L497.1 113.9M495.1 109.8L499.5 108.5M507.9 100.4L496.0 92.9M496.0 92.9L497.4 97.3M496.0 92.9L500.6 92.3M507.9 85.3L500.5 73.4M500.5 73.4L499.9 77.9M500.5 73.4L504.9 74.8M507.9 70.0L497.2 60.9M497.2 60.9L498.0 65.4M497.2 60.9L501.8 61.0M507.9 54.6L497.2 45.6M497.2 45.6L498.0 50.1M497.2 45.6L501.8 45.6M507.9 39.0L498.8 28.4M498.8 28.4L498.8 33.0M498.8 28.4L503.4 29.1M521.5 465.2L511.4 475.0M511.4 475.0L516.0 474.6M511.4 475.0L511.9 470.4M521.5 451.7L511.5 461.5M511.5 461.5L516.1 461.1M511.5 461.5L511.9 457.0M521.5 438.1L510.3 446.6M510.3 446.6L514.9 446.8M510.3 446.6L511.3 442.1M521.5 424.6L509.8 432.3M509.8 432.3L514.4 432.8M509.8 432.3L511.1 427.9M521.5 411.0L509.4 418.2M509.4 418.2L514.0 418.9M509.4 418.2L510.9 413.8M521.5 397.4L509.0 403.8M509.0 403.8L513.5 404.8M509.0 403.8L510.8 399.6M521.5 383.8L508.9 390.1M508.9 390.1L513.4 391.2M508.9 390.1L510.8 385.9M521.5 370.2L508.8 376.2M508.8 376.2L513.3 377.4M508.8 376.2L510.7 372.0M521.5 356.5L508.4 361.7M508.4 361.7L512.8 363.2M508.4 361.7L510.6 357.7M521.5 342.8L508.3 347.7M508.3 347.7L512.6 349.2M508.3 347.7L510.6 343.7M521.5 329.1L508.1 333.5M508.1 333.5L512.4 335.2M508.1 333.5L510.6 329.6M521.5 315.3L508.1 319.4M508.1 319.4L512.3 321.2M508.1 319.4L510.6 315.6M521.5 301.5L508.1 305.6M508.1 305.6L512.3 307.4M508.1 305.6L510.6 301.7M521.5 287.6L507.9 291.3M507.9 291.3L512.1 293.2M507.9 291.3L510.6 287.5M521.5 273.7L507.8 276.9M507.8 276.9L511.9 279.0M507.8 276.9L510.6 273.3M521.5 259.7L507.7 262.4M507.7 262.4L511.7 264.6M507.7 262.4L510.6 258.8M521.5 245.7L507.7 248.1M507.7 248.1L511.6 250.4M507.7 248.1L510.6 244.6M521.5 231.6L507.8 234.5M507.8 234.5L511.8 236.7M507.8 234.5L510.6 230.9M521.5 217.4L507.9 220.8M507.9 220.8L512.0 222.8M507.9 220.8L510.6 217.0M521.5 203.1L508.1 207.4M508.1 207.4L512.4 209.1M508.1 207.4L510.6 203.5M521.5 188.7L507.9 192.1M507.9 192.1L512.0 194.2M507.9 192.1L510.6 188.4M521.5 174.3L508.1 178.6M508.1 178.6L512.4 180.3M508.1 178.6L510.6 174.7M521.5 159.7L508.9 166.0M508.9 166.0L513.4 167.0M508.9 166.0L510.8 161.8M521.5 145.1L508.5 150.5M508.5 150.5L512.9 151.8M508.5 150.5L510.6 146.4M521.5 130.3L508.2 134.8M508.2 134.8L512.5 136.5M508.2 134.8L510.6 130.9M521.5 115.4L508.2 110.8M508.2 110.8L510.6 114.7M508.2 110.8L512.5 109.1M521.5 100.4L509.3 93.4M509.3 93.4L510.9 97.7M509.3 93.4L513.9 92.6M521.5 85.3L513.0 74.1M513.0 74.1L512.8 78.7M513.0 74.1L517.5 75.1M521.5 70.0L512.4 59.3M512.4 59.3L512.4 63.9M512.4 59.3L517.0 60.1M521.5 54.6L512.8 43.6M512.8 43.6L512.7 48.2M512.8 43.6L517.3 44.5M521.5 39.0L513.4 27.6M513.4 27.6L513.0 32.2M513.4 27.6L517.9 28.8M535.0 465.2L525.1 475.1M525.1 475.1L529.7 474.7M525.1 475.1L525.5 470.5M535.0 451.7L524.5 460.9M524.5 460.9L529.1 460.8M524.5 460.9L525.2 456.3M535.0 438.1L523.6 446.2M523.6 446.2L528.1 446.6M523.6 446.2L524.8 441.7M535.0 424.6L523.6 432.6M523.6 432.6L528.1 433.0M523.6 432.6L524.7 428.1M535.0 411.0L523.5 419.0M523.5 419.0L528.1 419.4M523.5 419.0L524.7 414.5M535.0 397.4L522.4 403.4M522.4 403.4L526.8 404.6M522.4 403.4L524.3 399.2M535.0 383.8L522.5 390.2M522.5 390.2L527.0 391.2M522.5 390.2L524.3 385.9M535.0 370.2L522.5 376.5M522.5 376.5L527.0 377.6M522.5 376.5L524.3 372.3M535.0 356.5L521.9 361.3M521.9 361.3L526.2 362.9M521.9 361.3L524.2 357.4M535.0 342.8L521.9 347.6M521.9 347.6L526.2 349.2M521.9 347.6L524.2 343.6M535.0 329.1L521.6 333.2M521.6 333.2L525.9 335.0M521.6 333.2L524.1 329.4M535.0 315.3L521.7 319.5M521.7 319.5L525.9 321.3M521.7 319.5L524.1 315.6M535.0 301.5L521.6 305.5M521.6 305.5L525.8 307.4M521.6 305.5L524.1 301.7M535.0 287.6L521.5 291.2M521.5 291.2L525.7 293.2M521.5 291.2L524.1 287.5M535.0 273.7L521.4 276.7M521.4 276.7L525.4 278.9M521.4 276.7L524.2 273.1M535.0 259.7L521.2 262.2M521.2 262.2L525.2 264.5M521.2 262.2L524.2 258.6M535.0 245.7L521.2 247.7M521.2 247.7L525.1 250.1M521.2 247.7L524.2 244.2M535.0 231.6L521.3 234.2M521.3 234.2L525.3 236.5M521.3 234.2L524.2 230.7M535.0 217.4L521.4 220.6M521.4 220.6L525.5 222.7M521.4 220.6L524.1 216.9M535.0 203.1L521.6 207.1M521.6 207.1L525.8 208.9M521.6 207.1L524.1 203.3M535.0 188.7L521.6 192.9M521.6 192.9L525.9 194.6M521.6 192.9L524.1 189.0M535.0 174.3L521.9 179.1M521.9 179.1L526.2 180.6M521.9 179.1L524.2 175.1M535.0 159.7L522.1 165.2M522.1 165.2L526.5 166.5M522.1 165.2L524.2 161.1M535.0 145.1L521.9 150.0M521.9 150.0L526.3 151.5M521.9 150.0L524.2 146.0M535.0 130.3L521.2 132.8M521.2 132.8L525.2 135.1M521.2 132.8L524.2 129.3M535.0 115.4L521.1 114.1M521.1 114.1L524.3 117.4M521.1 114.1L524.9 111.5M535.0 100.4L522.0 95.2M522.0 95.2L524.2 99.2M522.0 95.2L526.4 93.7M535.0 85.3L524.6 75.9M524.6 75.9L525.3 80.5M524.6 75.9L529.2 76.1M535.0 70.0L527.6 58.2M527.6 58.2L526.9 62.7M527.6 58.2L532.0 59.6M535.0 54.6L529.2 41.9M529.2 41.9L528.0 46.3M529.2 41.9L533.3 43.9M535.0 39.0L530.1 25.9M530.1 25.9L528.6 30.3M530.1 25.9L534.1 28.2M548.6 465.2L538.4 474.7M538.4 474.7L543.0 474.5M538.4 474.7L538.9 470.2M548.6 451.7L537.8 460.6M537.8 460.6L542.4 460.6M537.8 460.6L538.6 456.0M548.6 438.1L537.3 446.3M537.3 446.3L541.9 446.7M537.3 446.3L538.4 441.9M548.6 424.6L537.1 432.5M537.1 432.5L541.7 432.9M537.1 432.5L538.3 428.1M548.6 411.0L536.8 418.6M536.8 418.6L541.4 419.1M536.8 418.6L538.2 414.2M548.6 397.4L536.2 403.9M536.2 403.9L540.7 404.9M536.2 403.9L537.9 399.6M548.6 383.8L536.1 390.1M536.1 390.1L540.6 391.2M536.1 390.1L537.9 385.9M548.6 370.2L536.0 376.2M536.0 376.2L540.4 377.4M536.0 376.2L537.9 372.0M548.6 356.5L535.6 361.7M535.6 361.7L539.9 363.1M535.6 361.7L537.8 357.6M548.6 342.8L535.4 347.6M535.4 347.6L539.7 349.2M535.4 347.6L537.7 343.6M548.6 329.1L535.3 333.4M535.3 333.4L539.5 335.1M535.3 333.4L537.7 329.5M548.6 315.3L535.2 319.5M535.2 319.5L539.5 321.3M535.2 319.5L537.7 315.6M548.6 301.5L535.2 305.5M535.2 305.5L539.4 307.3M535.2 305.5L537.7 301.7M548.6 287.6L535.0 291.1M535.0 291.1L539.2 293.1M535.0 291.1L537.7 287.3M548.6 273.7L534.9 276.6M534.9 276.6L539.0 278.8M534.9 276.6L537.7 273.0M548.6 259.7L534.8 262.2M534.8 262.2L538.8 264.5M534.8 262.2L537.8 258.7M548.6 245.7L534.8 248.1M534.8 248.1L538.8 250.4M534.8 248.1L537.8 244.6M548.6 231.6L534.9 234.4M534.9 234.4L538.9 236.6M534.9 234.4L537.7 230.8M548.6 217.4L535.1 220.9M535.1 220.9L539.2 222.9M535.1 220.9L537.7 217.2M548.6 203.1L535.2 207.3M535.2 207.3L539.5 209.0M535.2 207.3L537.7 203.4M548.6 188.7L535.3 193.1M535.3 193.1L539.6 194.8M535.3 193.1L537.7 189.2M548.6 174.3L535.7 179.7M535.7 179.7L540.1 181.1M535.7 179.7L537.8 175.6M548.6 159.7L535.9 165.6M535.9 165.6L540.3 166.8M535.9 165.6L537.9 161.4M548.6 145.1L535.9 150.9M535.9 150.9L540.3 152.1M535.9 150.9L537.9 146.8M548.6 130.3L535.8 136.1M535.8 136.1L540.3 137.3M535.8 136.1L537.8 131.9M548.6 115.4L534.8 117.8M534.8 117.8L538.8 120.1M534.8 117.8L537.8 114.3M548.6 100.4L534.6 100.1M534.6 100.1L538.1 103.1M534.6 100.1L538.2 97.2M548.6 85.3L535.2 89.4M535.2 89.4L539.5 91.2M535.2 89.4L537.7 85.5M548.6 70.0L537.6 61.4M537.6 61.4L538.5 65.9M537.6 61.4L542.2 61.2M548.6 54.6L542.7 41.9M542.7 41.9L541.5 46.4M542.7 41.9L546.9 43.9M548.6 39.0L542.3 26.6M542.3 26.6L541.2 31.0M542.3 26.6L546.5 28.4M562.2 465.2L551.4 474.2M551.4 474.2L556.0 474.2M551.4 474.2L552.2 469.6M562.2 451.7L551.4 460.7M551.4 460.7L556.0 460.7M551.4 460.7L552.2 456.1M562.2 438.1L551.0 446.5M551.0 446.5L555.6 446.8M551.0 446.5L552.0 442.0M562.2 424.6L550.7 432.5M550.7 432.5L555.2 433.0M550.7 432.5L551.9 428.1M562.2 411.0L550.4 418.6M550.4 418.6L555.0 419.2M550.4 418.6L551.8 414.2M562.2 397.4L549.8 403.9M549.8 403.9L554.3 404.9M549.8 403.9L551.5 399.6M562.2 383.8L549.7 390.1M549.7 390.1L554.1 391.2M549.7 390.1L551.5 385.9M562.2 370.2L549.5 376.2M549.5 376.2L554.0 377.4M549.5 376.2L551.4 372.0M562.2 356.5L549.1 361.7M549.1 361.7L553.5 363.1M549.1 361.7L551.3 357.6M562.2 342.8L549.0 347.6M549.0 347.6L553.3 349.2M549.0 347.6L551.3 343.6M562.2 329.1L548.8 333.3M548.8 333.3L553.1 335.1M548.8 333.3L551.3 329.5M562.2 315.3L548.8 319.4M548.8 319.4L553.0 321.2M548.8 319.4L551.3 315.6M562.2 301.5L548.8 305.6M548.8 305.6L553.0 307.4M548.8 305.6L551.3 301.7M562.2 287.6L548.7 291.3M548.7 291.3L552.8 293.2M548.7 291.3L551.3 287.5M562.2 273.7L548.5 276.9M548.5 276.9L552.7 279.0M548.5 276.9L551.3 273.2M562.2 259.7L548.4 262.3M548.4 262.3L552.4 264.6M548.4 262.3L551.3 258.8M562.2 245.7L548.4 248.2M548.4 248.2L552.4 250.4M548.4 248.2L551.3 244.6M562.2 231.6L548.5 234.6M548.5 234.6L552.6 236.7M548.5 234.6L551.3 231.0M562.2 217.4L548.7 221.0M548.7 221.0L552.8 222.9M548.7 221.0L551.3 217.2M562.2 203.1L548.9 207.4M548.9 207.4L553.1 209.1M548.9 207.4L551.3 203.5M562.2 188.7L548.9 193.3M548.9 193.3L553.2 194.9M548.9 193.3L551.3 189.3M562.2 174.3L549.3 179.8M549.3 179.8L553.7 181.1M549.3 179.8L551.4 175.6M562.2 159.7L549.6 165.8M549.6 165.8L554.0 166.9M549.6 165.8L551.5 161.6M562.2 145.1L549.6 151.2M549.6 151.2L554.1 152.3M549.6 151.2L551.5 147.0M562.2 130.3L549.1 135.4M549.1 135.4L553.5 136.8M549.1 135.4L551.3 131.3M562.2 115.4L548.6 119.0M548.6 119.0L552.8 121.0M548.6 119.0L551.3 115.2M562.2 100.4L548.2 101.7M548.2 101.7L552.0 104.3M548.2 101.7L551.5 98.4M562.2 85.3L548.2 84.4M548.2 84.4L551.5 87.6M548.2 84.4L551.9 81.7M562.2 70.0L549.8 63.5M549.8 63.5L551.5 67.8M549.8 63.5L554.3 62.5M562.2 54.6L555.4 42.3M555.4 42.3L554.5 46.9M555.4 42.3L559.7 44.0M562.2 39.0L554.9 27.1M554.9 27.1L554.2 31.6M554.9 27.1L559.2 28.6M575.8 465.2L564.8 473.9M564.8 473.9L569.4 474.0M564.8 473.9L565.7 469.4M575.8 451.7L564.6 460.1M564.6 460.1L569.2 460.4M564.6 460.1L565.6 455.7M575.8 438.1L564.3 446.1M564.3 446.1L568.9 446.5M564.3 446.1L565.5 441.7M575.8 424.6L564.3 432.6M564.3 432.6L568.9 433.0M564.3 432.6L565.5 428.1M575.8 411.0L564.3 419.0M564.3 419.0L568.8 419.4M564.3 419.0L565.5 414.5M575.8 397.4L563.1 403.4M563.1 403.4L567.5 404.6M563.1 403.4L565.0 399.2M575.8 383.8L563.3 390.2M563.3 390.2L567.8 391.2M563.3 390.2L565.1 385.9M575.8 370.2L563.3 376.5M563.3 376.5L567.7 377.6M563.3 376.5L565.1 372.3M575.8 356.5L562.6 361.3M562.6 361.3L566.9 362.9M562.6 361.3L564.9 357.4M575.8 342.8L562.6 347.6M562.6 347.6L566.9 349.2M562.6 347.6L564.9 343.6M575.8 329.1L562.4 333.2M562.4 333.2L566.6 335.0M562.4 333.2L564.9 329.4M575.8 315.3L562.4 319.5M562.4 319.5L566.6 321.2M562.4 319.5L564.9 315.6M575.8 301.5L562.3 305.5M562.3 305.5L566.6 307.4M562.3 305.5L564.9 301.7M575.8 287.6L562.2 291.3M562.2 291.3L566.4 293.3M562.2 291.3L564.9 287.6M575.8 273.7L562.2 277.0M562.2 277.0L566.3 279.1M562.2 277.0L564.9 273.3M575.8 259.7L562.0 262.2M562.0 262.2L565.9 264.5M562.0 262.2L564.9 258.6M575.8 245.7L561.9 247.9M561.9 247.9L565.9 250.3M561.9 247.9L564.9 244.4M575.8 231.6L562.0 234.2M562.0 234.2L566.0 236.5M562.0 234.2L564.9 230.7M575.8 217.4L562.2 220.7M562.2 220.7L566.3 222.7M562.2 220.7L564.9 217.0M575.8 203.1L562.4 207.3M562.4 207.3L566.7 209.1M562.4 207.3L564.9 203.4M575.8 188.7L562.4 193.1M562.4 193.1L566.7 194.8M562.4 193.1L564.9 189.2M575.8 174.3L563.1 180.2M563.1 180.2L567.5 181.4M563.1 180.2L565.0 176.0M575.8 159.7L563.6 166.7M563.6 166.7L568.1 167.5M563.6 166.7L565.2 162.4M575.8 145.1L563.9 152.4M563.9 152.4L568.4 153.1M563.9 152.4L565.3 148.1M575.8 130.3L563.6 137.2M563.6 137.2L568.1 138.0M563.6 137.2L565.2 132.9M575.8 115.4L562.6 120.2M562.6 120.2L566.9 121.8M562.6 120.2L564.9 116.2M575.8 100.4L562.5 104.8M562.5 104.8L566.7 106.5M562.5 104.8L564.9 100.9M575.8 85.3L561.8 86.7M561.8 86.7L565.6 89.3M561.8 86.7L565.0 83.4M575.8 70.0L563.4 63.5M563.4 63.5L565.1 67.7M563.4 63.5L567.9 62.5M575.8 54.6L567.7 43.1M567.7 43.1L567.3 47.7M567.7 43.1L572.2 44.3M575.8 39.0L568.7 26.9M568.7 26.9L567.9 31.5M568.7 26.9L573.0 28.5" fill="none" stroke="#000080" stroke-width="1" shape-rendering="crispEdges"/>
<polygon points="149.2,30.6 153.4,29.2 156.1,29.6 159.7,30.6 161.8,30.2 165.1,29.7 168,29.8 171.1,30.7 174.5,29.3 176.9,30.7 180.6,30.2 183.4,30.3 185.7,29.9 188.9,29.5 192.6,29.3 194.8,30.3 198.9,29.7 201.9,30.5 203.8,30.7 206.8,30 209.7,29.4 213.7,30.5 215.8,29.7 219.6,30.2 221.9,30.3 224.8,30.7 228.8,30.3 232.2,29.6 234.1,30.2 238.2,30.7 241,30.2 243.4,30.5 246.8,30.6 250,30 252.9,29.5 255.3,30.4 259,29.2 261.2,29.9 264.8,29.8 267.5,30.7 270.6,29.9 274.5,29.7 276.8,29.5 280.4,30.5 282.4,30.2 285.4,30.5 288.9,29.7 292.6,30 295,30.7 297.6,29.9 301.6,29.8 304.5,30.2 307.7,30.1 310.6,30 312.6,29.8 316,30.2 319,29.8 321.7,30 325.4,30.2 327.4,29.6 331.4,30 333.8,30.1 336.4,30 340.9,29.8 342.7,30.3 346.4,29.7 348.9,29.2 351.6,30.5 355.2,30.6 359.1,30.4 361.1,29.4 365,29.5 366.8,29.9 370,29.6 372.9,29.3 375.7,30.7 378.8,29.9 382.7,30.1 386.1,30.7 388.7,29.9 391.7,29.8 394,30 397.6,29.6 400.5,29.8 402.9,30.7 406.7,30.1 409,29.7 411.9,30.6 415.9,30 419,29.9 421.7,30.8 424.1,30.3 427.6,29.5 430.2,30.1 433.1,30.5 436.7,29.7 439.7,29.9 442.8,29.7 445.7,29.6 449.3,30.1 451.7,29.7 454.7,30.8 458.2,30.7 461.6,30.4 464.2,29.7 467.2,29.4 467,34.3 467,38 465.5,40.6 463.6,43.1 461.6,45.6 459.2,48.2 461.1,52.3 462.3,56.1 460.3,59 458.9,62.4 456.5,65.1 453.6,67.8 450.6,68.6 448.7,71.7 448.8,74.6 448.8,78 444.7,81.4 440.2,84 438.5,85.7 433.7,87.4 434.7,92.8 435.4,96.3 434.9,99 433.5,102.9 434.4,105.8 430.8,107.3 427.3,110.4 424.8,112.4 423.6,114.2 420.2,118.7 417.2,119.2 414.3,121.7 411.1,123.6 409.4,125.3 406.6,128.6 404.4,132.4 401.9,133.8 398.1,136 396.5,137.6 393.2,139.1 395.3,140.4 393.2,142.6 389,144.5 384.6,146.2 381.9,147 378.3,147 375.6,147.4 372,148.4 367.7,149 364.9,151 362.3,153.6 360.3,155.7 356.7,151.7 354.3,148.7 353.5,146.4 351.1,143.6 351.4,147.1 352.3,150.5 349,150.9 346.4,152.6 345.2,155 344.5,159 341.3,160.9 337.9,161.5 334.3,162.3 331.8,163.1 327.8,163.7 324.1,165.9 321.7,165.5 318.2,168.1 314.3,168.6 311.6,169.5 308.5,173.6 307,177 309.2,180.4 309.2,183.4 304.6,184.4 301.7,180 302.3,176 303.6,171.8 302.2,168.4 300.6,165 294.9,161.6 289.8,164.7 286.7,163 284.4,160.3 281.2,163.2 277.2,166.5 273.8,164.8 269.7,164.7 266.9,166.7 264.5,169.9 261.5,171.4 259.8,174.1 256.7,176.4 255.6,179.4 253.6,182.7 252,185 249.6,187.2 248.4,190.6 248.4,194.3 247,196.3 246.6,199.4 245.5,203.2 247.6,206.8 250,209.4 252.2,212.6 253.6,213.9 256.5,217.4 257.1,220.4 257.9,223.6 259.4,226.4 260.6,228.1 263.8,230.3 266,232.4 268.9,236 271.6,237.4 274.6,240.4 275.5,241.9 278.5,244.1 280.1,246.4 283.2,248.9 284.6,250.7 288,252.1 289.4,255.3 291.9,258 293.3,259.9 292.7,263.1 294.2,266.1 293.7,269.7 294.6,271.9 294,275.8 295.4,278.3 297.1,282.4 297.9,284.2 298.1,288.2 296.2,289.9 295.3,293.7 293.1,296 291.9,299.3 292.8,302.8 292.6,305.9 290.4,308 287.7,310.7 286.5,314.2 282.6,314.5 280,317.2 276.8,317.6 273.4,318.5 271.1,319.8 268.1,321.3 264.6,323.3 261.2,324.6 258,326.6 257.6,330.3 256.4,334.3 252.4,335.4 248.8,337.9 245.9,340.1 243.8,342.4 240.2,344 237.7,344.9 236.7,347 235.5,343.9 234.6,340.9 233.5,338.2 233.6,334.7 233.9,331.3 234.9,327.4 231.9,324.8 230.1,322.8 226.5,320.7 222.7,320.3 219.3,317.2 217.3,314.7 215.4,311.3 213.2,309.4 209.3,308.7 207.8,305 206.8,303.3 204.4,300.3 201.4,296.7 197.3,293.9 193.7,292.3 190.5,292.8 186.4,291.7 183.9,292 180.8,291.3 179.5,285.8 181.3,281.4 177.3,280 174,280.3 171.7,281.2 168.1,283.3 168,286.1 167.9,289.2 167.6,292.5 168.8,297.2 168.1,299.5 166,303.9 163.9,308.3 163.4,311.5 161.6,314.8 159.9,317.8 159.9,322 158.5,324.4 157.5,328.7 158.3,330.9 158.4,335.2 157.5,337.5 160.5,338.4 164.3,340.4 167.4,338.6 168.3,342.3 169.5,346.4 170.6,350.6 172.2,354.1 173.2,356.7 174.7,359.7 174.8,364.2 176.2,367.2 178.8,369.9 182.2,371.3 185.5,372.2 188.9,373.4 192.5,376 195.5,377.3 198.2,380.5 201.3,382.8 202.6,384.1 206,385.6 208.6,388 209.9,391.4 211.3,395.3 213.6,397.3 214.8,401.6 215.1,403.8 216.1,407.7 216.3,409.8 216,413 214.6,417.1 214.8,419.5 216,423.7 218.6,426 219.4,430.1 222.2,433.2 223.7,435.9 224.4,439.1 225.4,442.2 224.7,445.7 220.8,446.1 218.2,446.1 214.7,444 210.8,441.3 208.2,439.9 205.2,438.5 201.7,436.5 198.6,434.2 196.5,432.2 193.9,429.5 191,426.9 188.3,424.8 186.2,421.8 185.1,418.7 184,414.3 182.6,412.2 180.4,408.8 179,407.2 177.7,404 176.3,401.2 174.9,396.9 174,394.2 173.1,390.6 173.6,387.9 172.8,384.2 172.2,379.3 169.6,375.3 168.2,373 165.8,370.6 163.8,367.2 161.9,363 159.9,360.7 158,357.3 154.3,353.8 149.2,353.7 149.3,350.8 150.2,348.3 149.9,345 150,342 149.3,339.4 150.7,336.7 149.8,332.6 149.8,330.4 150.6,326.8 150,323.7 149.8,321 150,318 150,315.4 150.2,312.3 149.3,308.2 149.5,306.4 150.5,302.5 150.6,300 149.4,296.7 150.4,293.6 150.1,290.3 150.4,288.2 149.6,285.3 149.6,281.4 149.5,278.4 149.2,276.4 149.5,272.5 150.3,270.3 150.6,267.1 150,263.8 149.5,260.3 150.2,257.6 150,255.2 149.5,251.5 149.5,249.6 149.8,246.4 150,243.6 150.1,239.4 149.5,237.2 149.6,234.8 149.6,230.8 150.8,227.9 150.4,225.5 150.3,222.2 149.6,218.4 150.5,215.9 150.7,213.5 149.3,209.7 149.9,207.5 149.4,204.4 150.6,201.2 150.5,197.8 149.6,194.2 149.7,192.2 149.7,188.6 150,185.2 150.2,182.3 149.8,179.2 150.3,177.1 149.7,173.5 149.3,171.5 149.9,167.9 150.4,165.2 150.6,162.5 149.4,159.1 149.8,156.3 150.4,153.3 149.7,150.4 149.7,146.6 150.3,144.7 149.8,141 150,137.6 149.9,134.6 149.9,131.8 149.4,129.7 149.4,125.5 149.3,122.9 149.9,120.8 149.6,116.3 149.6,114.6 149.9,110.8 149.4,107.5 149.5,105.2 150.8,102.5 150.2,99.8 149.3,96.3 150.1,93.3 150.3,89.6 150.4,87.6 149.7,83.7 150.1,81.2 150,77.8 149.3,74.7 149.3,71.6 149.6,69.5 150.4,66.4 149.2,63.5 149.8,60 150,57.2 150,54.6 150.7,50.6 149.9,48.7 150,45 150.4,42.2 150.8,38.5 150.7,36.6 149.3,32.7" fill="#c0c0c0" stroke="#000" stroke-width="1.6" stroke-linejoin="round"/>
<polygon points="149.2,30.6 153.4,29.2 156.1,29.6 159.7,30.6 161.8,30.2 165.1,29.7 168,29.8 171.1,30.7 174.5,29.3 176.9,30.7 180.6,30.2 183.4,30.3 185.7,29.9 188.9,29.5 192.6,29.3 194.8,30.3 198.9,29.7 201.9,30.5 203.8,30.7 206.8,30 209.7,29.4 213.7,30.5 215.8,29.7 219.6,30.2 221.9,30.3 224.8,30.7 228.8,30.3 232.2,29.6 234.1,30.2 238.2,30.7 241,30.2 243.4,30.5 246.8,30.6 250,30 252.9,29.5 255.3,30.4 259,29.2 261.2,29.9 264.8,29.8 267.5,30.7 270.6,29.9 274.5,29.7 276.8,29.5 280.4,30.5 282.4,30.2 285.4,30.5 288.9,29.7 292.6,30 295,30.7 297.6,29.9 301.6,29.8 304.5,30.2 307.7,30.1 310.6,30 312.6,29.8 316,30.2 319,29.8 321.7,30 325.4,30.2 327.4,29.6 331.4,30 333.8,30.1 336.4,30 340.9,29.8 342.7,30.3 346.4,29.7 348.9,29.2 351.6,30.5 355.2,30.6 359.1,30.4 361.1,29.4 365,29.5 366.8,29.9 370,29.6 372.9,29.3 375.7,30.7 378.8,29.9 382.7,30.1 386.1,30.7 388.7,29.9 391.7,29.8 394,30 397.6,29.6 400.5,29.8 402.9,30.7 406.7,30.1 409,29.7 411.9,30.6 415.9,30 419,29.9 421.7,30.8 424.1,30.3 427.6,29.5 430.2,30.1 433.1,30.5 436.7,29.7 439.7,29.9 442.8,29.7 445.7,29.6 449.3,30.1 451.7,29.7 454.7,30.8 458.2,30.7 461.6,30.4 464.2,29.7 467.2,29.4 467,34.3 467,38 465.5,40.6 463.6,43.1 461.6,45.6 459.2,48.2 461.1,52.3 462.3,56.1 460.3,59 458.9,62.4 456.5,65.1 453.6,67.8 450.6,68.6 448.7,71.7 448.8,74.6 448.8,78 444.7,81.4 440.2,84 438.5,85.7 433.7,87.4 434.7,92.8 435.4,96.3 434.9,99 433.5,102.9 434.4,105.8 430.8,107.3 427.3,110.4 424.8,112.4 423.6,114.2 420.2,118.7 417.2,119.2 414.3,121.7 411.1,123.6 409.4,125.3 406.6,128.6 404.4,132.4 401.9,133.8 398.1,136 396.5,137.6 393.2,139.1 395.3,140.4 393.2,142.6 389,144.5 384.6,146.2 381.9,147 378.3,147 375.6,147.4 372,148.4 367.7,149 364.9,151 362.3,153.6 360.3,155.7 356.7,151.7 354.3,148.7 353.5,146.4 351.1,143.6 351.4,147.1 352.3,150.5 349,150.9 346.4,152.6 345.2,155 344.5,159 341.3,160.9 337.9,161.5 334.3,162.3 331.8,163.1 327.8,163.7 324.1,165.9 321.7,165.5 318.2,168.1 314.3,168.6 311.6,169.5 308.5,173.6 307,177 309.2,180.4 309.2,183.4 304.6,184.4 301.7,180 302.3,176 303.6,171.8 302.2,168.4 300.6,165 294.9,161.6 289.8,164.7 286.7,163 284.4,160.3 281.2,163.2 277.2,166.5 273.8,164.8 269.7,164.7 266.9,166.7 264.5,169.9 261.5,171.4 259.8,174.1 256.7,176.4 255.6,179.4 253.6,182.7 252,185 249.6,187.2 248.4,190.6 248.4,194.3 247,196.3 246.6,199.4 245.5,203.2 247.6,206.8 250,209.4 252.2,212.6 253.6,213.9 256.5,217.4 257.1,220.4 257.9,223.6 259.4,226.4 260.6,228.1 263.8,230.3 266,232.4 268.9,236 271.6,237.4 274.6,240.4 275.5,241.9 278.5,244.1 280.1,246.4 283.2,248.9 284.6,250.7 288,252.1 289.4,255.3 291.9,258 293.3,259.9 292.7,263.1 294.2,266.1 293.7,269.7 294.6,271.9 294,275.8 295.4,278.3 297.1,282.4 297.9,284.2 298.1,288.2 296.2,289.9 295.3,293.7 293.1,296 291.9,299.3 292.8,302.8 292.6,305.9 290.4,308 287.7,310.7 286.5,314.2 282.6,314.5 280,317.2 276.8,317.6 273.4,318.5 271.1,319.8 268.1,321.3 264.6,323.3 261.2,324.6 258,326.6 257.6,330.3 256.4,334.3 252.4,335.4 248.8,337.9 245.9,340.1 243.8,342.4 240.2,344 237.7,344.9 236.7,347 235.5,343.9 234.6,340.9 233.5,338.2 233.6,334.7 233.9,331.3 234.9,327.4 231.9,324.8 230.1,322.8 226.5,320.7 222.7,320.3 219.3,317.2 217.3,314.7 215.4,311.3 213.2,309.4 209.3,308.7 207.8,305 206.8,303.3 204.4,300.3 201.4,296.7 197.3,293.9 193.7,292.3 190.5,292.8 186.4,291.7 183.9,292 180.8,291.3 179.5,285.8 181.3,281.4 177.3,280 174,280.3 171.7,281.2 168.1,283.3 168,286.1 167.9,289.2 167.6,292.5 168.8,297.2 168.1,299.5 166,303.9 163.9,308.3 163.4,311.5 161.6,314.8 159.9,317.8 159.9,322 158.5,324.4 157.5,328.7 158.3,330.9 158.4,335.2 157.5,337.5 160.5,338.4 164.3,340.4 167.4,338.6 168.3,342.3 169.5,346.4 170.6,350.6 172.2,354.1 173.2,356.7 174.7,359.7 174.8,364.2 176.2,367.2 178.8,369.9 182.2,371.3 185.5,372.2 188.9,373.4 192.5,376 195.5,377.3 198.2,380.5 201.3,382.8 202.6,384.1 206,385.6 208.6,388 209.9,391.4 211.3,395.3 213.6,397.3 214.8,401.6 215.1,403.8 216.1,407.7 216.3,409.8 216,413 214.6,417.1 214.8,419.5 216,423.7 218.6,426 219.4,430.1 222.2,433.2 223.7,435.9 224.4,439.1 225.4,442.2 224.7,445.7 220.8,446.1 218.2,446.1 214.7,444 210.8,441.3 208.2,439.9 205.2,438.5 201.7,436.5 198.6,434.2 196.5,432.2 193.9,429.5 191,426.9 188.3,424.8 186.2,421.8 185.1,418.7 184,414.3 182.6,412.2 180.4,408.8 179,407.2 177.7,404 176.3,401.2 174.9,396.9 174,394.2 173.1,390.6 173.6,387.9 172.8,384.2 172.2,379.3 169.6,375.3 168.2,373 165.8,370.6 163.8,367.2 161.9,363 159.9,360.7 158,357.3 154.3,353.8 149.2,353.7 149.3,350.8 150.2,348.3 149.9,345 150,342 149.3,339.4 150.7,336.7 149.8,332.6 149.8,330.4 150.6,326.8 150,323.7 149.8,321 150,318 150,315.4 150.2,312.3 149.3,308.2 149.5,306.4 150.5,302.5 150.6,300 149.4,296.7 150.4,293.6 150.1,290.3 150.4,288.2 149.6,285.3 149.6,281.4 149.5,278.4 149.2,276.4 149.5,272.5 150.3,270.3 150.6,267.1 150,263.8 149.5,260.3 150.2,257.6 150,255.2 149.5,251.5 149.5,249.6 149.8,246.4 150,243.6 150.1,239.4 149.5,237.2 149.6,234.8 149.6,230.8 150.8,227.9 150.4,225.5 150.3,222.2 149.6,218.4 150.5,215.9 150.7,213.5 149.3,209.7 149.9,207.5 149.4,204.4 150.6,201.2 150.5,197.8 149.6,194.2 149.7,192.2 149.7,188.6 150,185.2 150.2,182.3 149.8,179.2 150.3,177.1 149.7,173.5 149.3,171.5 149.9,167.9 150.4,165.2 150.6,162.5 149.4,159.1 149.8,156.3 150.4,153.3 149.7,150.4 149.7,146.6 150.3,144.7 149.8,141 150,137.6 149.9,134.6 149.9,131.8 149.4,129.7 149.4,125.5 149.3,122.9 149.9,120.8 149.6,116.3 149.6,114.6 149.9,110.8 149.4,107.5 149.5,105.2 150.8,102.5 150.2,99.8 149.3,96.3 150.1,93.3 150.3,89.6 150.4,87.6 149.7,83.7 150.1,81.2 150,77.8 149.3,74.7 149.3,71.6 149.6,69.5 150.4,66.4 149.2,63.5 149.8,60 150,57.2 150,54.6 150.7,50.6 149.9,48.7 150,45 150.4,42.2 150.8,38.5 150.7,36.6 149.3,32.7" fill="none" stroke="#000" stroke-width="2.8" stroke-dasharray="1.5 3.5 2.5 2 1 4.5 2 3" stroke-linejoin="round"/>
<polygon points="290,196.3 292.8,192.4 294.2,189.8 298.6,189.5 303.3,188.2 306.4,188.3 309.1,187.9 312.5,188.6 317.3,191.5 315.8,194.8 314.7,197.8 313.5,201.2 310.3,206.7 308,207.3 305.8,210.7 301,210.9 297.7,211.7 295.2,212.5 291.8,210.3 287.5,209.5 286.8,205.4 286.2,202 287.8,198.2" fill="#c0c0c0" stroke="#000" stroke-width="1.6" stroke-linejoin="round"/>
<polygon points="290,196.3 292.8,192.4 294.2,189.8 298.6,189.5 303.3,188.2 306.4,188.3 309.1,187.9 312.5,188.6 317.3,191.5 315.8,194.8 314.7,197.8 313.5,201.2 310.3,206.7 308,207.3 305.8,210.7 301,210.9 297.7,211.7 295.2,212.5 291.8,210.3 287.5,209.5 286.8,205.4 286.2,202 287.8,198.2" fill="none" stroke="#000" stroke-width="2.8" stroke-dasharray="1.5 3.5 2.5 2 1 4.5 2 3" stroke-linejoin="round"/>
<polygon points="460.4,111.3 463.2,114.2 464.6,115.6 464.9,120.3 463.7,124.3 462.8,127.9 461.4,130.6 461.6,134.3 459.6,138.5 458.5,140.8 456.7,144.9 454.5,148.2 453.4,151.1 452.3,154.2 452.8,157.8 450.8,158.9 448.2,154.6 446.6,150.7 444.8,148.9 442.5,145.4 442.6,143 440.5,139.9 442,136.5 444,131.4 446.5,127.3 447.6,123.2 450.4,120 452,116.7 454,114.3 457.6,112.4" fill="#c0c0c0" stroke="#000" stroke-width="1.6" stroke-linejoin="round"/>
<polygon points="460.4,111.3 463.2,114.2 464.6,115.6 464.9,120.3 463.7,124.3 462.8,127.9 461.4,130.6 461.6,134.3 459.6,138.5 458.5,140.8 456.7,144.9 454.5,148.2 453.4,151.1 452.3,154.2 452.8,157.8 450.8,158.9 448.2,154.6 446.6,150.7 444.8,148.9 442.5,145.4 442.6,143 440.5,139.9 442,136.5 444,131.4 446.5,127.3 447.6,123.2 450.4,120 452,116.7 454,114.3 457.6,112.4" fill="none" stroke="#000" stroke-width="2.8" stroke-dasharray="1.5 3.5 2.5 2 1 4.5 2 3" stroke-linejoin="round"/>
<polygon points="446.3,211.3 448.4,208.9 452.3,209.1 454.9,208.3 457.2,207.9 461.5,208.6 465.4,208.4 468.9,207.5 471.6,211.5 471.8,215.4 472.7,219.7 473.8,223.5 474,227.1 472.6,229.3 470.8,233.7 470.8,235.7 469.6,239 467,243.2 466.5,247 465.3,249.4 460.2,252.5 459.6,256.7 461.3,260.7 461.5,264.6 464.1,266.9 463.8,272.8 467.5,274.9 471.8,276.1 471.9,278.6 474.4,282 476.6,283.6 475.7,285.2 471.3,280.1 469,278 465.4,277 461.4,275.4 457.6,277.6 454,278.3 452,275.4 449.2,273.8 450,270.6 450.9,268.5 453,265.9 452.1,263.3 448.8,263.2 447.3,266.9 445.9,265.9 442.6,263.1 441.1,258.8 440.8,256.3 440.1,251.8 439.2,247.5 439.5,244.3 442.2,242.3 444.7,239.6 444,236 444.8,233.8 444.8,229.4 444.8,225.2 445.8,222.7 446,219.7 447.1,215.7" fill="#c0c0c0" stroke="#000" stroke-width="1.6" stroke-linejoin="round"/>
<polygon points="446.3,211.3 448.4,208.9 452.3,209.1 454.9,208.3 457.2,207.9 461.5,208.6 465.4,208.4 468.9,207.5 471.6,211.5 471.8,215.4 472.7,219.7 473.8,223.5 474,227.1 472.6,229.3 470.8,233.7 470.8,235.7 469.6,239 467,243.2 466.5,247 465.3,249.4 460.2,252.5 459.6,256.7 461.3,260.7 461.5,264.6 464.1,266.9 463.8,272.8 467.5,274.9 471.8,276.1 471.9,278.6 474.4,282 476.6,283.6 475.7,285.2 471.3,280.1 469,278 465.4,277 461.4,275.4 457.6,277.6 454,278.3 452,275.4 449.2,273.8 450,270.6 450.9,268.5 453,265.9 452.1,263.3 448.8,263.2 447.3,266.9 445.9,265.9 442.6,263.1 441.1,258.8 440.8,256.3 440.1,251.8 439.2,247.5 439.5,244.3 442.2,242.3 444.7,239.6 444,236 444.8,233.8 444.8,229.4 444.8,225.2 445.8,222.7 446,219.7 447.1,215.7" fill="none" stroke="#000" stroke-width="2.8" stroke-dasharray="1.5 3.5 2.5 2 1 4.5 2 3" stroke-linejoin="round"/>
<polygon points="471.6,270.7 473.9,269.8 476.2,269.3 479.9,270.5 482.3,274.7 485.2,276.3 488,274.4 492.9,274.5 491.8,277.7 488.8,279.5 489.9,282.2 491.5,284.3 492.2,286.9 489.7,289.9 487.6,288.1 485.8,286.7 483.2,282.8 480.3,280 477.7,278 473.9,275 471.4,273.2" fill="#c0c0c0" stroke="#000" stroke-width="1.25" stroke-linejoin="round"/>
<polygon points="496.8,273.1 498.4,272.7 498.7,277.2 497.2,280.3 495.9,277.9" fill="#c0c0c0" stroke="#000" stroke-width="1.25" stroke-linejoin="round"/>
<polygon points="447,281.4 451.3,280.4 455.7,281.8 458.7,284.5 460.2,288 459.8,290.7 459.3,293.3 456.3,296.6 454.5,298.3 452.7,294 452,291.4 451.4,288.8 449.1,285.2" fill="#c0c0c0" stroke="#000" stroke-width="1.25" stroke-linejoin="round"/>
<polygon points="465.1,281.2 468.2,281.3 468.2,284.3 464.7,284" fill="#c0c0c0" stroke="#000" stroke-width="1.25" stroke-linejoin="round"/>
<polygon points="484.1,295.6 486.8,295.4 490.4,297.5 494.5,300.2 493.6,302.4 490.4,301 487.8,299.3 484.9,297.9" fill="#c0c0c0" stroke="#000" stroke-width="1.25" stroke-linejoin="round"/>
<polygon points="498.7,295.8 503.3,294.8 506.3,294 510,294 512.7,297 514.5,301.3 513.8,303.8 513.9,306.7 514.3,309.4 515.5,311.4 511.8,312.9 509.8,311.1 507.9,309.1 507.3,304.8 505,301.9 502.3,299.3 499.7,298.4" fill="#c0c0c0" stroke="#000" stroke-width="1.25" stroke-linejoin="round"/>
<polygon points="499.9,311.1 504.8,310.1 505.6,313.9 506.3,316.9 507.1,319.4 509.4,323 510.4,325.9 508,326.8 505.6,324.3 504.4,320 502.2,316.2 500.1,313.7" fill="#c0c0c0" stroke="#000" stroke-width="1.25" stroke-linejoin="round"/>
<polygon points="467.6,305 471.2,306 474.6,307 477.8,307.2 481.9,309.1 480.5,313.1 478.6,314.2 476.2,316.4 473.7,317.6 471.8,319.3 469.5,320.3 466.7,321.3 467.3,317.9 467.1,313.7 466.9,310.7 467.7,307.9" fill="#c0c0c0" stroke="#000" stroke-width="1.25" stroke-linejoin="round"/>
<polygon points="481.2,316.3 484.8,315.7 486.6,318.2 485.9,320.9 485.2,323.4 484.5,326.2 483.9,329.4 482.7,333.4 484.7,337.6 483.9,341.6 480.4,341.5 479.9,339 478.7,336.6 475.7,335.7 473.4,331.8 474.8,330.4 478.8,329.2 479.8,326.7 480.3,323.5 480.5,319.7" fill="#c0c0c0" stroke="#000" stroke-width="1.25" stroke-linejoin="round"/>
<polygon points="492.7,317.5 494.4,318.1 493.3,322.4 491.6,324.7 490.4,327.3 488.5,329.4 487,332.1 485.6,335.8 484.9,335.2 485.8,332.3 486.5,329.2 488.2,326.5 489.5,323.9 491.8,319.9" fill="#c0c0c0" stroke="#000" stroke-width="1.25" stroke-linejoin="round"/>
<polygon points="493.2,329.9 495.8,328.5 498.1,327.3 500.2,329.5 499.6,331.9 496.6,333.4 493.2,333.3" fill="#c0c0c0" stroke="#000" stroke-width="1.25" stroke-linejoin="round"/>
<polygon points="402.4,359.3 404.4,356.9 405,353 407,350.9 407.5,348.1 408.8,345.4 410.7,342.2 414.3,340.1 415.6,338.5 418.5,335.1 420.7,333.6 422.5,331.2 424.9,328.2 427.3,325.5 431.3,323.3 433.8,320.9 435.2,317.6 437.3,312.4 436.1,309.2 432.5,308.4 431.6,312 429,315.4 427.5,319.5 425.8,320.7 424.2,323 421.1,325.2 419.7,327.7 417.2,330 415,333.3 412.9,335.7 410.6,338.5 408.6,340.8 406.2,343.8 404.6,347.7 401.3,349.8 400.3,353.8 397.2,357.3 399.7,359.9" fill="#c0c0c0" stroke="#000" stroke-width="1.6" stroke-linejoin="round"/>
<polygon points="402.4,359.3 404.4,356.9 405,353 407,350.9 407.5,348.1 408.8,345.4 410.7,342.2 414.3,340.1 415.6,338.5 418.5,335.1 420.7,333.6 422.5,331.2 424.9,328.2 427.3,325.5 431.3,323.3 433.8,320.9 435.2,317.6 437.3,312.4 436.1,309.2 432.5,308.4 431.6,312 429,315.4 427.5,319.5 425.8,320.7 424.2,323 421.1,325.2 419.7,327.7 417.2,330 415,333.3 412.9,335.7 410.6,338.5 408.6,340.8 406.2,343.8 404.6,347.7 401.3,349.8 400.3,353.8 397.2,357.3 399.7,359.9" fill="none" stroke="#000" stroke-width="2.8" stroke-dasharray="1.5 3.5 2.5 2 1 4.5 2 3" stroke-linejoin="round"/>
<polygon points="466.6,372 465.8,368.7 465.3,365.2 467.7,361.4 470.7,358.4 475.3,356.2 480.4,353.5 481.4,349.5 484.6,349.1 486.3,347.4 491.3,349.7 491,353.1 490.4,357.7 492.4,357.3 495.7,355.7 497.3,354.6 502.4,352.3 505.6,348.9 505.5,344.2 509.6,342.3 512.7,342.7 513.3,337.2 513.2,333 517.2,334.7 518.9,338.5 520.9,341.9 523.3,346.3 526.1,351.7 526.2,357.6 528.3,360 528.7,362.7 527.5,368.2 525.9,372 524.7,374.9 524.1,377.8 522.6,374.9 521.7,372.8 521.2,369 520.3,366 517.9,368.2 517.8,372.6 516.4,376.2 517.5,380.6 514.8,382.4 513.8,386.2 510.3,385.8 508.4,384.9 505.2,383.2 501.9,381.5 497.8,379.8 496.3,376.6 493.3,372.1 494.5,369 493.6,365.1 494.6,361.5 489.7,360.8 486,360.8 483.3,360.1 478.6,362.2 474.7,366.2 472.6,368.3 471.7,371.6 468.6,373.3" fill="#c0c0c0" stroke="#000" stroke-width="1.6" stroke-linejoin="round"/>
<polygon points="466.6,372 465.8,368.7 465.3,365.2 467.7,361.4 470.7,358.4 475.3,356.2 480.4,353.5 481.4,349.5 484.6,349.1 486.3,347.4 491.3,349.7 491,353.1 490.4,357.7 492.4,357.3 495.7,355.7 497.3,354.6 502.4,352.3 505.6,348.9 505.5,344.2 509.6,342.3 512.7,342.7 513.3,337.2 513.2,333 517.2,334.7 518.9,338.5 520.9,341.9 523.3,346.3 526.1,351.7 526.2,357.6 528.3,360 528.7,362.7 527.5,368.2 525.9,372 524.7,374.9 524.1,377.8 522.6,374.9 521.7,372.8 521.2,369 520.3,366 517.9,368.2 517.8,372.6 516.4,376.2 517.5,380.6 514.8,382.4 513.8,386.2 510.3,385.8 508.4,384.9 505.2,383.2 501.9,381.5 497.8,379.8 496.3,376.6 493.3,372.1 494.5,369 493.6,365.1 494.6,361.5 489.7,360.8 486,360.8 483.3,360.1 478.6,362.2 474.7,366.2 472.6,368.3 471.7,371.6 468.6,373.3" fill="none" stroke="#000" stroke-width="2.8" stroke-dasharray="1.5 3.5 2.5 2 1 4.5 2 3" stroke-linejoin="round"/>
<polygon points="293.2,469.9 292.8,466.1 292.1,463.4 291.4,459.9 290.4,456.8 289.7,454.4 291,451.4 292.1,446.9 293.2,444 294.4,441.5 296.2,438.8 301.1,440.8 305.7,442.2 308.2,442.5 312.6,443.4 317.1,442.3 320.4,442.7 319.5,437.9 320.9,433.7 321.6,429.9 325.3,428.1 327.8,426.9 331.4,425.6 334.9,424.2 338.6,423.9 342.2,423.5 345.5,421.2 347.4,419.5 349.6,417.1 350.8,415.1 353.8,411.6 354.4,409.6 357.3,406.8 359.1,405.1 364.5,401.4 367.4,400 372.4,398.1 374.7,395.6 375.9,394.3 379.2,391.2 381,389.7 384.6,386.2 386.6,383.9 388.2,381.4 390.6,378.8 393,378 394.3,375.3 397.2,371.7 399.2,369.4 403.6,371.9 406.2,375.9 407.5,379.8 410.7,382.1 412.4,383.6 414.5,386.3 418.2,387 420.8,388.1 422.9,390.3 426,391.5 428.3,393 426,395.1 423.2,397.6 418.8,398.4 415.6,400.1 417.6,402.2 419.4,405.3 414.3,407.2 411,407.7 409.8,410.6 409.4,413.9 406.4,415.9 404.3,418.1 405.1,421.1 407.7,423.8 409.6,427.9 410.9,431.4 412.6,433.6 411.9,436.4 410.3,439.8 413.6,442.2 416.9,444.1 419,445.2 420.5,448 423.3,450.8 426.5,451.4 421.6,453.5 419.4,454.4 414.3,455.6 412.3,457.1 409.2,458.3 408.9,460.9 407,463.5 406.5,467.5 406.5,469.9 402.5,469.4 399.6,470.6 396.1,470.2 394.5,470.1 391.1,469.3 387.6,470.3 384,469.6 381.6,470.5 378.6,470.2 375.5,469.6 373.1,470.4 368.6,470.8 366.7,469.3 363.7,470.8 360,470.2 356.5,469.7 353.6,469.5 350.7,469.6 348.1,470.3 345.7,470.8 341.1,470.6 338.5,469.8 336.5,469.5 333.4,469.7 330.4,469.7 326.6,469.2 324,470.5 320.1,470.4 317.9,470.4 313.7,470.7 311.1,469.4 307.6,470.7 305,469.4 302.8,469.4 298.6,470.1 295.5,470.7" fill="#c0c0c0" stroke="#000" stroke-width="1.6" stroke-linejoin="round"/>
<polygon points="293.2,469.9 292.8,466.1 292.1,463.4 291.4,459.9 290.4,456.8 289.7,454.4 291,451.4 292.1,446.9 293.2,444 294.4,441.5 296.2,438.8 301.1,440.8 305.7,442.2 308.2,442.5 312.6,443.4 317.1,442.3 320.4,442.7 319.5,437.9 320.9,433.7 321.6,429.9 325.3,428.1 327.8,426.9 331.4,425.6 334.9,424.2 338.6,423.9 342.2,423.5 345.5,421.2 347.4,419.5 349.6,417.1 350.8,415.1 353.8,411.6 354.4,409.6 357.3,406.8 359.1,405.1 364.5,401.4 367.4,400 372.4,398.1 374.7,395.6 375.9,394.3 379.2,391.2 381,389.7 384.6,386.2 386.6,383.9 388.2,381.4 390.6,378.8 393,378 394.3,375.3 397.2,371.7 399.2,369.4 403.6,371.9 406.2,375.9 407.5,379.8 410.7,382.1 412.4,383.6 414.5,386.3 418.2,387 420.8,388.1 422.9,390.3 426,391.5 428.3,393 426,395.1 423.2,397.6 418.8,398.4 415.6,400.1 417.6,402.2 419.4,405.3 414.3,407.2 411,407.7 409.8,410.6 409.4,413.9 406.4,415.9 404.3,418.1 405.1,421.1 407.7,423.8 409.6,427.9 410.9,431.4 412.6,433.6 411.9,436.4 410.3,439.8 413.6,442.2 416.9,444.1 419,445.2 420.5,448 423.3,450.8 426.5,451.4 421.6,453.5 419.4,454.4 414.3,455.6 412.3,457.1 409.2,458.3 408.9,460.9 407,463.5 406.5,467.5 406.5,469.9 402.5,469.4 399.6,470.6 396.1,470.2 394.5,470.1 391.1,469.3 387.6,470.3 384,469.6 381.6,470.5 378.6,470.2 375.5,469.6 373.1,470.4 368.6,470.8 366.7,469.3 363.7,470.8 360,470.2 356.5,469.7 353.6,469.5 350.7,469.6 348.1,470.3 345.7,470.8 341.1,470.6 338.5,469.8 336.5,469.5 333.4,469.7 330.4,469.7 326.6,469.2 324,470.5 320.1,470.4 317.9,470.4 313.7,470.7 311.1,469.4 307.6,470.7 305,469.4 302.8,469.4 298.6,470.1 295.5,470.7" fill="none" stroke="#000" stroke-width="2.8" stroke-dasharray="1.5 3.5 2.5 2 1 4.5 2 3" stroke-linejoin="round"/>
<polygon points="149.4,417.3 155.2,417.7 158.1,419.1 162.4,422.3 164.4,425 167.2,427.8 169.4,429.6 173.1,431.5 174.6,434 177.7,434.7 180.1,437.3 183,437.7 186.4,437.7 188.8,439.5 192.8,441.8 196.8,443.9 200.2,446.6 203.3,448.4 206.1,452.2 209.5,455.4 213.6,458 215.5,459.9 216.9,463.8 218.7,466 220.5,469.3 216.6,469.2 214.3,469.4 210.9,469.3 207.8,470.3 204.8,469.9 201.7,469.9 198.8,469.4 195.6,469.6 193.2,470.7 188.9,469.4 186.8,470.1 182.7,470.3 181.1,469.9 177.1,470.1 175.1,469.6 171,469.5 168.5,470 164.8,469.8 161.4,469.7 159.9,470.1 155.7,470.7 152.8,469.6 149.3,469.4 149.5,466.5 150.6,463.4 149.6,460.8 150.7,457.2 150.4,454.2 150.1,451.4 150.7,448.6 150,445.6 149.8,441.8 150.7,438.9 150.4,435.4 150.7,432.8 149.6,430.2 150,426.1 149.6,422.6 149.5,420.4" fill="#c0c0c0" stroke="#000" stroke-width="1.6" stroke-linejoin="round"/>
<polygon points="149.4,417.3 155.2,417.7 158.1,419.1 162.4,422.3 164.4,425 167.2,427.8 169.4,429.6 173.1,431.5 174.6,434 177.7,434.7 180.1,437.3 183,437.7 186.4,437.7 188.8,439.5 192.8,441.8 196.8,443.9 200.2,446.6 203.3,448.4 206.1,452.2 209.5,455.4 213.6,458 215.5,459.9 216.9,463.8 218.7,466 220.5,469.3 216.6,469.2 214.3,469.4 210.9,469.3 207.8,470.3 204.8,469.9 201.7,469.9 198.8,469.4 195.6,469.6 193.2,470.7 188.9,469.4 186.8,470.1 182.7,470.3 181.1,469.9 177.1,470.1 175.1,469.6 171,469.5 168.5,470 164.8,469.8 161.4,469.7 159.9,470.1 155.7,470.7 152.8,469.6 149.3,469.4 149.5,466.5 150.6,463.4 149.6,460.8 150.7,457.2 150.4,454.2 150.1,451.4 150.7,448.6 150,445.6 149.8,441.8 150.7,438.9 150.4,435.4 150.7,432.8 149.6,430.2 150,426.1 149.6,422.6 149.5,420.4" fill="none" stroke="#000" stroke-width="2.8" stroke-dasharray="1.5 3.5 2.5 2 1 4.5 2 3" stroke-linejoin="round"/>
<polygon points="435.5,458.3 439.7,455.5 443,454 446,451.9 448.6,449.6 452.3,447.7 455.6,449.1 459.3,450 461.6,449.6 465.4,450.6 467.5,451.3 471.6,452 473.5,451.7 476.2,453.3 479.6,453.4 483.1,452.9 486,453 489.2,451.9 491.4,452 496,449.8 499,448.9 501.5,446.5 505.8,444.4 508.9,442 509.4,446.3 508.1,448.7 505.7,451.8 504.5,454.1 500.7,455.1 498.1,456.7 496.2,459.1 492.5,459.9 490.2,460 487.5,460 484,460.8 479.9,459.8 477.6,459 474,458 469.9,457.6 466.3,458.3 462.4,457.7 460.1,457.7 455.4,458.8 452.7,457.9 449.4,458.8 445.5,460.4 444.2,463.2 442,466.8 439.9,469.4 436.4,470.4 435.9,466.8 436.2,464 435.9,461.6" fill="#c0c0c0" stroke="#000" stroke-width="1.6" stroke-linejoin="round"/>
<polygon points="435.5,458.3 439.7,455.5 443,454 446,451.9 448.6,449.6 452.3,447.7 455.6,449.1 459.3,450 461.6,449.6 465.4,450.6 467.5,451.3 471.6,452 473.5,451.7 476.2,453.3 479.6,453.4 483.1,452.9 486,453 489.2,451.9 491.4,452 496,449.8 499,448.9 501.5,446.5 505.8,444.4 508.9,442 509.4,446.3 508.1,448.7 505.7,451.8 504.5,454.1 500.7,455.1 498.1,456.7 496.2,459.1 492.5,459.9 490.2,460 487.5,460 484,460.8 479.9,459.8 477.6,459 474,458 469.9,457.6 466.3,458.3 462.4,457.7 460.1,457.7 455.4,458.8 452.7,457.9 449.4,458.8 445.5,460.4 444.2,463.2 442,466.8 439.9,469.4 436.4,470.4 435.9,466.8 436.2,464 435.9,461.6" fill="none" stroke="#000" stroke-width="2.8" stroke-dasharray="1.5 3.5 2.5 2 1 4.5 2 3" stroke-linejoin="round"/>
<polygon points="543.8,438.3 547.7,439.1 548.2,442.3 549.3,445.8 548.1,448.5 547,451 544.8,452.7 542.7,453.8 541.7,450.8 540.9,448.3 541.4,445.2 541.8,443.3 542.7,440.6" fill="#c0c0c0" stroke="#000" stroke-width="1.25" stroke-linejoin="round"/>
<polygon points="549,448 551.6,445.8 554.2,444.2 558.1,444.8 558.5,448.4 558.8,452.3 557.3,453.7 555.3,456.1 551.9,458.8 549.1,461 547.1,457.1 547.2,454.7 548.3,452.3" fill="#c0c0c0" stroke="#000" stroke-width="1.25" stroke-linejoin="round"/>
<polygon points="541.1,456.2 545.2,458.3 545.4,461.3 545.2,464 546.1,467.1 546.3,469.7 543.5,469.8 541,470.1 540.7,467 540.8,464.7 541.2,461.4 541.2,458.5" fill="#c0c0c0" stroke="#000" stroke-width="1.25" stroke-linejoin="round"/>
<polygon points="550.9,431.8 553.1,430.2 555,428.9 557.7,430 557.7,432.5 557.7,434.7 555.9,436.7 553.7,437.8 551.1,436.3" fill="#c0c0c0" stroke="#000" stroke-width="1.25" stroke-linejoin="round"/>
<polygon points="277.1,409.2 280.2,409.3 281.2,413.3 277.7,414 277.8,411.6" fill="#c0c0c0" stroke="#000" stroke-width="1.25" stroke-linejoin="round"/>
<polygon points="197.1,445.2 201.2,446.3 202.2,450.3 197.7,449" fill="#c0c0c0" stroke="#000" stroke-width="1.25" stroke-linejoin="round"/>
<polygon points="203.1,451.2 206.7,451.3 210.2,451.3 209.7,454 207.3,454.1 204.3,453.7" fill="#c0c0c0" stroke="#000" stroke-width="1.25" stroke-linejoin="round"/>
<polyline points="269.7,165.3 268.1,164.3 265.2,162.2 262.9,161 261.5,159.7 259,158.6 259,156.2 260,153.7 259.1,150.4 259.5,148.5 257.9,147.4 255.5,146.3 253.1,145.4 249.7,144.5 247,143.4 244.1,141.9 240.8,140.9 238.4,141.8 236.8,144.1 234.7,145.3 231.4,146.7 228.2,147.9 225.9,148.5 222.1,149 218.7,148.9 216.6,148.4 213.5,148 210.6,149.1 207.6,150.8 204.9,149.7 203.6,147.8 201.3,150.6 199,152" fill="none" stroke="#000" stroke-width="1"/>
<polyline points="198.8,152.6 201.1,153.9 202.9,156.9 203.4,159.6 206.2,160.7 208.9,163.1 208,166.8 208.5,170 210.4,172.2 212.5,173.6 213.8,176 216.4,177.2 220.2,176.4 222.6,175.9 224.6,174.5 227.4,176.4 230.1,179 231.5,183.5 233.4,184.5 236.4,186.6 234.4,189.6 232.9,192 230,192.6 226.4,193.8 223.7,193.4 222.9,196.9 222.2,198.9 224.6,199.9 227.5,201.5 229.4,202.5 231.8,204.6 235.2,206 236.6,206.5 238.6,209.2 238.5,211.8 240.2,214.1 241.9,215.4 244,217.3 246.3,218.9 247.8,221.3 249.5,222.7 251.9,224.4 253.6,226.8 254.8,229 255.3,232.3 257.7,233.5 260.4,236.1 261.3,238 263.5,240.8 265.7,243.3 268.2,244.4 268.9,249.2 270.3,251.5 271.8,255.7 270.8,259.1 270.9,261.6 270,265" fill="none" stroke="#000" stroke-width="1"/>
<polyline points="199.7,151.3 195.8,152 192.7,152.3 191.5,155.8 190.5,158.7 191.1,160.8 193.3,163.7 192.2,166.6 192.5,170.5 189.4,170.1 186.6,171 184.6,167.4 183.9,163.4 181.1,164.8 178.1,166.6 175.2,165.9 172.5,166.7 170,163.6 167.3,159.5 164.9,159.6 162.9,158.3 159.7,157 159.5,153.9 157.5,151.4 159.3,149.8 160.7,146.5 162,143.6 159.1,142.8 155,142" fill="none" stroke="#000" stroke-width="1"/>
<polyline points="183.8,163.5 182.7,165.4 181.1,167.8 178.9,170 177.4,171.9 175.4,173.9 173.9,177.5 171.5,179.6 170.2,183.6 167.4,183.2 165.3,183 162.5,183.7 159.2,184.8 157.1,187.1 155,188" fill="none" stroke="#000" stroke-width="1"/>
<polyline points="169.5,183.3 172.2,184.6 173.6,186.7 176.4,188 175.5,190.6 174.3,193.8 177.9,193.6 180.9,194.1 182.9,194.1 186.7,195.3 186.9,198.2 186,200.8 187,203.5 186.6,206.5 184.5,209.8 183.5,212.6 183.4,214.6 182.8,217 182.1,218.9 182.5,221.6 186.4,223.6 188.9,222.8 190.8,220.8 192.7,218.9 194.3,216.8 197.5,214.6 199.9,216.9 201.5,217.5 203.9,218.8 206.7,217.2 207.3,215.2 210.3,214.9 212,212.6 214.1,211.3 216.1,211.7 219.1,212.2 221.1,212 223.8,213.6 225.3,215.4 226.7,216.9 227.9,220.2 230.4,221.8 232.3,225.2 234.6,228.6 233.9,231.2 234.6,233.1 234.5,235.5 233.8,237.6 236.5,239.5 237.4,242.4 240.4,244 242.5,245.4 243.2,247.7 244.9,249.5 243.7,252.4 244.2,256 243.3,258 244.2,260.6 246,262.3 246,264.3 247.8,267.7 248,270" fill="none" stroke="#000" stroke-width="1"/>
<polyline points="203.4,299.3 203.2,296.6 201.7,292.7 201.3,290.2 200.5,287.8 200.4,285.4 199.7,282.1 200.6,279.8 201.3,278.4 203.4,275.5 204.9,274.2 205.9,272.2 207.5,269.8 209.9,269.1 213.7,268.9 216.2,268.4 218.2,268.5 221.3,267.5 224.1,268.2 226.6,267.4 230.5,268 232.2,267.9 234.9,268.4 238,267.4 241.4,270.4 244.2,269.8 248.3,269.5 252,268.4 255,267.8 258,265.9 260.6,266.6 263.5,266.8 266,267.6 268.5,267.1 270,265" fill="none" stroke="#000" stroke-width="1"/>
<polyline points="269.4,265.3 269.7,269.1 268.7,271.7 269.8,274.7 269.7,277.3 270.4,279.9 270.5,281.6 271.4,284.6 270.3,288 270.6,289.9 270.3,293.4 269.5,296.2 266.8,297.1 264.1,298.3 262.7,299.9 260,300.9 256.8,302.5 254.3,302.5 251.6,304.7 248.6,305.4 248.5,310 249.6,311.9 251.6,314.4 250,317.4 247.9,316.9 244.7,316.3 242.8,316 240,315.4 238,320.3 235.4,320.6 232.6,321.2 230,322" fill="none" stroke="#000" stroke-width="1"/>
<polyline points="156.2,274.3 156.9,277.3 157.3,279.9 156.8,282 158.6,284.9 159.1,286.8 159,289.6 159.8,293.1 159.8,295.6 160.9,299.6 162.4,301.5 161.6,304.3 160.6,307.1 158.9,310.9 158.4,312.8 158,316" fill="none" stroke="#000" stroke-width="1"/>
<polyline points="170.8,376.5 174.2,376.7 177.1,377.5 179.4,378 180.9,379.9 182.4,381.4 183.4,385 183.5,386.6 187.2,387.1 190.1,385.9 193.7,384.9 196.5,384.7 197,382.5 199,381" fill="none" stroke="#000" stroke-width="1"/>
<polyline points="298.6,441.3 300.9,444.1 302.7,446.2 305.9,448.9 307.8,450.2 309.9,453.7 311.9,452.7 315.6,452.9 317.2,452.3 320.7,451.9 322.6,451.9 325.7,451.3 327.3,451 329.8,449.9 332.6,450.3 334.2,447.8 335.5,444.5 338,445 341.8,443.9 343.6,443.3 347.2,445.1 349.5,446.9 353.1,447.9 355.5,447.2 359.1,445.9 361.5,446.1 365.5,445.3 367.7,443.4 368.8,441.1 371.2,440 370.4,438.2 370.5,434.5 373,432.3 375.2,430.7 374.8,429.1 374,426.4 376.4,425.2 379.5,423.9 380,420.6 380.7,417.8 380.3,415 381,412.5 380.4,409.3 383.6,407 385.8,406.3 389.2,407 391,406.7 393.5,406.7 396.3,406.6 398.6,406.6 401.2,407.1 404.5,407.2 406.9,407.8 410,410" fill="none" stroke="#000" stroke-width="1"/>
<polyline points="362.2,405.3 364.1,407.6 365.7,409.6 366.3,411 369.6,409.2 371.6,406.5 370.6,404 370.4,401.8 370,399" fill="none" stroke="#000" stroke-width="1"/>
<polyline points="374.2,399.3 374.4,403.1 374.3,406.6 376.3,406 377.6,403.5 377.6,400.1 377,398" fill="none" stroke="#000" stroke-width="1"/>
<polyline points="238,310 238,320" fill="none" stroke="#000" stroke-width="1"/>
<polyline points="248,328 258,330" fill="none" stroke="#000" stroke-width="1"/>
<polyline points="249,274 249,280" fill="none" stroke="#000" stroke-width="1"/>
<polyline points="249,284 249,290" fill="none" stroke="#000" stroke-width="1"/>
<polyline points="249,293 249,296" fill="none" stroke="#000" stroke-width="1"/>
<polyline points="380.6,40.6 382.5,41.3 384.4,39.6 386.7,41.6 389.2,40.9 391.9,40 395,39" fill="none" stroke="#000" stroke-width="1"/>
<polyline points="305.6,136.6 308.5,137.3 310.4,138.6 315.7,137.6 318.2,138.9 320.9,138 324,137" fill="none" stroke="#000" stroke-width="1"/>
<polygon points="544,97 548,92 553,85 555,86 551,93 547,98" fill="#000" stroke="#000" stroke-width="1"/>
<polygon points="563,67 568,63 572,62 571,66 566,69" fill="#000" stroke="#000" stroke-width="1"/>
<polygon points="560,72 562,72 562,74 560,74" fill="#000" stroke="#000" stroke-width="1"/>
<polygon points="556,78 558,78 558,79 556,79" fill="#000" stroke="#000" stroke-width="1"/>
<polygon points="537,94 540,94 540,96 537,96" fill="#000" stroke="#000" stroke-width="1"/>
<polygon points="533,90 535,90 535,92 533,92" fill="#000" stroke="#000" stroke-width="1"/>
<polygon points="490,125 494,122 499,120 498,124 493,127" fill="#000" stroke="#000" stroke-width="1"/>
<polygon points="481,123 484,123 484,124 481,124" fill="#000" stroke="#000" stroke-width="1"/>
<polygon points="510,117 513,117 513,119 510,119" fill="#000" stroke="#000" stroke-width="1"/>
<polygon points="503,119 504,119 504,121 503,121" fill="#000" stroke="#000" stroke-width="1"/>
<polygon points="426,44 428,44 428,46 426,46" fill="#000" stroke="#000" stroke-width="1"/>
<polygon points="384,41 386,41 386,42 384,42" fill="#000" stroke="#000" stroke-width="1"/>
<polygon points="314,138 317,138 317,139 314,139" fill="#000" stroke="#000" stroke-width="1"/>
<polygon points="464,173 466,173 466,176 464,176" fill="#000" stroke="#000" stroke-width="1"/>
<polygon points="465,180 467,180 467,183 465,183" fill="#000" stroke="#000" stroke-width="1"/>
<polygon points="457,197 460,197 460,199 457,199" fill="#000" stroke="#000" stroke-width="1"/>
<polygon points="464,203 467,203 467,206 464,206" fill="#000" stroke="#000" stroke-width="1"/>
<polygon points="457,204 459,204 459,205 457,205" fill="#000" stroke="#000" stroke-width="1"/>
<polygon points="459,149 460,149 460,150 459,150" fill="#000" stroke="#000" stroke-width="1"/>
<polygon points="460,158 462,158 462,160 460,160" fill="#000" stroke="#000" stroke-width="1"/>
<polygon points="214,450 218,448 222,449 221,453 217,455 214,453" fill="#000" stroke="#000" stroke-width="1"/>
<polygon points="221,450 226,447 231,449 235,451 234,455 229,457 224,456" fill="#000" stroke="#000" stroke-width="1"/>
<polygon points="219,457 224,456 226,460 222,463 219,461" fill="#000" stroke="#000" stroke-width="1"/>
<polygon points="227,459 231,457 233,461 229,464" fill="#000" stroke="#000" stroke-width="1"/>
<polygon points="216,457 219,457 219,460 216,460" fill="#000" stroke="#000" stroke-width="1"/>
<polygon points="221,460 223,460 223,462 221,462" fill="#000" stroke="#000" stroke-width="1"/>
<polygon points="210,452 212,452 212,454 210,454" fill="#000" stroke="#000" stroke-width="1"/>
<polygon points="233,455 235,455 235,457 233,457" fill="#000" stroke="#000" stroke-width="1"/>
<polygon points="212,445 214,445 214,447 212,447" fill="#000" stroke="#000" stroke-width="1"/>
<polygon points="224,427 226,427 226,429 224,429" fill="#000" stroke="#000" stroke-width="1"/>
<polygon points="229,430 230,430 230,431 229,431" fill="#000" stroke="#000" stroke-width="1"/>
<polygon points="246,423 250,422 252,419 256,419 256,424 251,426 247,426" fill="#000" stroke="#000" stroke-width="1"/>
<polygon points="275,405 277,405 277,407 275,407" fill="#000" stroke="#000" stroke-width="1"/>
<polygon points="288,423 290,423 290,426 288,426" fill="#000" stroke="#000" stroke-width="1"/>
<polygon points="291,430 294,430 294,431 291,431" fill="#000" stroke="#000" stroke-width="1"/>
<polygon points="269,450 272,450 272,453 269,453" fill="#000" stroke="#000" stroke-width="1"/>
<polygon points="284,428 285,428 285,429 284,429" fill="#000" stroke="#000" stroke-width="1"/>
<polygon points="452,383 457,383 457,385 452,385" fill="#000" stroke="#000" stroke-width="1"/>
<polygon points="466,374 469,374 469,377 466,377" fill="#000" stroke="#000" stroke-width="1"/>
<polygon points="442,393 445,393 445,395 442,395" fill="#000" stroke="#000" stroke-width="1"/>
<polygon points="459,379 461,379 461,381 459,381" fill="#000" stroke="#000" stroke-width="1"/>
<polygon points="447,389 449,389 449,390 447,390" fill="#000" stroke="#000" stroke-width="1"/>
<polygon points="531,404 533,404 533,412 531,412" fill="#000" stroke="#000" stroke-width="1"/>
<polygon points="535,401 537,401 537,403 535,403" fill="#000" stroke="#000" stroke-width="1"/>
<polygon points="513,415 516,415 516,421 513,421" fill="#000" stroke="#000" stroke-width="1"/>
<polygon points="512,429 514,429 514,434 512,434" fill="#000" stroke="#000" stroke-width="1"/>
<polygon points="432,300 437,300 437,304 432,304" fill="#000" stroke="#000" stroke-width="1"/>
<polygon points="436,296 439,296 439,299 436,299" fill="#000" stroke="#000" stroke-width="1"/>
<polygon points="440,318 442,318 442,320 440,320" fill="#000" stroke="#000" stroke-width="1"/>
<polygon points="497,339 499,339 499,341 497,341" fill="#000" stroke="#000" stroke-width="1"/>
<polygon points="520,338 522,338 522,341 520,341" fill="#000" stroke="#000" stroke-width="1"/>
<polygon points="364,318 365,318 365,319 364,319" fill="#000" stroke="#000" stroke-width="1"/>
<polygon points="364,323 365,323 365,324 364,324" fill="#000" stroke="#000" stroke-width="1"/>
<polygon points="545,42 546,42 546,43 545,43" fill="#000" stroke="#000" stroke-width="1"/>
<polygon points="562,51 563,51 563,52 562,52" fill="#000" stroke="#000" stroke-width="1"/>
<polygon points="399,365 403,365 403,367 399,367" fill="#000" stroke="#000" stroke-width="1"/>
<polygon points="421,395 424,395 424,397 421,397" fill="#000" stroke="#000" stroke-width="1"/>
<polygon points="433,397 436,397 436,399 433,399" fill="#000" stroke="#000" stroke-width="1"/>
<polygon points="438,395 440,395 440,397 438,397" fill="#000" stroke="#000" stroke-width="1"/>
<polygon points="420,436 422,436 422,438 420,438" fill="#000" stroke="#000" stroke-width="1"/>
<polygon points="343,153 347,151 349,155 352,152 355,156 351,158 346,157" fill="#000" stroke="#000" stroke-width="1"/>
<polygon points="356,153 360,151 363,154 366,152 366,156 360,158" fill="#000" stroke="#000" stroke-width="1"/>
<polygon points="338,160 341,160 341,162 338,162" fill="#000" stroke="#000" stroke-width="1"/>
<polygon points="331,163 333,163 333,165 331,165" fill="#000" stroke="#000" stroke-width="1"/>
<polygon points="350,144 352,144 352,149 350,149" fill="#000" stroke="#000" stroke-width="1"/>
<polygon points="368,150 371,150 371,152 368,152" fill="#000" stroke="#000" stroke-width="1"/>
<polygon points="459,50 462,50 462,53 459,53" fill="#000" stroke="#000" stroke-width="1"/>
<polygon points="462,58 465,58 465,60 462,60" fill="#000" stroke="#000" stroke-width="1"/>
<polygon points="455,66 458,66 458,69 455,69" fill="#000" stroke="#000" stroke-width="1"/>
<polygon points="449,72 452,72 452,75 449,75" fill="#000" stroke="#000" stroke-width="1"/>
<polygon points="445,80 448,80 448,82 445,82" fill="#000" stroke="#000" stroke-width="1"/>
<polygon points="437,88 441,88 441,91 437,91" fill="#000" stroke="#000" stroke-width="1"/>
<polygon points="433,98 436,98 436,101 433,101" fill="#000" stroke="#000" stroke-width="1"/>
<polygon points="427,110 431,110 431,113 427,113" fill="#000" stroke="#000" stroke-width="1"/>
<polygon points="419,118 423,118 423,121 419,121" fill="#000" stroke="#000" stroke-width="1"/>
<polygon points="409,125 413,125 413,128 409,128" fill="#000" stroke="#000" stroke-width="1"/>
<polygon points="402,133 405,133 405,136 402,136" fill="#000" stroke="#000" stroke-width="1"/>
<polygon points="465,40 468,40 468,43 465,43" fill="#000" stroke="#000" stroke-width="1"/>
<polygon points="412,118 414,118 414,120 412,120" fill="#000" stroke="#000" stroke-width="1"/>
<polygon points="466,46 468,46 468,49 466,49" fill="#000" stroke="#000" stroke-width="1"/>
<polygon points="463,44 465,44 465,46 463,46" fill="#000" stroke="#000" stroke-width="1"/>
<polygon points="404,408 407,408 407,411 404,411" fill="#000" stroke="#000" stroke-width="1"/>
<polygon points="408,414 411,414 411,418 408,418" fill="#000" stroke="#000" stroke-width="1"/>
<polygon points="404,419 407,419 407,422 404,422" fill="#000" stroke="#000" stroke-width="1"/>
<polygon points="416,398 420,398 420,401 416,401" fill="#000" stroke="#000" stroke-width="1"/>
<polygon points="421,402 423,402 423,404 421,404" fill="#000" stroke="#000" stroke-width="1"/>
<polygon points="410,437 412,437 412,439 410,439" fill="#000" stroke="#000" stroke-width="1"/>
<polygon points="463,258 467,258 467,262 463,262" fill="#000" stroke="#000" stroke-width="1"/>
<polygon points="466,262 469,262 469,265 466,265" fill="#000" stroke="#000" stroke-width="1"/>
<polygon points="496,299 498,299 498,305 496,305" fill="#000" stroke="#000" stroke-width="1"/>
<polygon points="499,322 501,322 501,327 499,327" fill="#000" stroke="#000" stroke-width="1"/>
<polygon points="513,326 516,326 516,332 513,332" fill="#000" stroke="#000" stroke-width="1"/>
<polygon points="517,332 520,332 520,335 517,335" fill="#000" stroke="#000" stroke-width="1"/>
<polygon points="483,322 484,322 484,328 483,328" fill="#000" stroke="#000" stroke-width="1"/>
<polygon points="474,296 476,296 476,298 474,298" fill="#000" stroke="#000" stroke-width="1"/>
<polygon points="470,300 471,300 471,301 470,301" fill="#000" stroke="#000" stroke-width="1"/>
<polygon points="452,302 453,302 453,304 452,304" fill="#000" stroke="#000" stroke-width="1"/>
<polygon points="455,308 456,308 456,309 455,309" fill="#000" stroke="#000" stroke-width="1"/>
<polygon points="449,310 451,310 451,311 449,311" fill="#000" stroke="#000" stroke-width="1"/>
<polygon points="445,316 446,316 446,317 445,317" fill="#000" stroke="#000" stroke-width="1"/>
<polygon points="456,334 458,334 458,336 456,336" fill="#000" stroke="#000" stroke-width="1"/>
<polygon points="451,340 452,340 452,341 451,341" fill="#000" stroke="#000" stroke-width="1"/>
<polygon points="157,361 159,361 159,364 157,364" fill="#000" stroke="#000" stroke-width="1"/>
<polygon points="160,368 162,368 162,370 160,370" fill="#000" stroke="#000" stroke-width="1"/>
<polygon points="162,374 165,374 165,377 162,377" fill="#000" stroke="#000" stroke-width="1"/>
<polygon points="166,378 168,378 168,380 166,380" fill="#000" stroke="#000" stroke-width="1"/>
<polygon points="158,372 159,372 159,374 158,374" fill="#000" stroke="#000" stroke-width="1"/>
<polygon points="164,384 165,384 165,385 164,385" fill="#000" stroke="#000" stroke-width="1"/>
<polygon points="155,455 157,459 160,462 166,466 155,466" fill="#000"/>
<polygon points="155,458 157,461 162,466 155,466" fill="#0020ff"/>
</g>
<rect x="153" y="36" width="424" height="2" fill="#000"/>
<rect x="153" y="465" width="424" height="2" fill="#000"/>
<rect x="153" y="36" width="2" height="431" fill="#000"/>
<rect x="575" y="36" width="2" height="431" fill="#000"/>
<rect x="168" y="38" width="1" height="5" fill="#000"/>
<rect x="168" y="461" width="1" height="4" fill="#000"/>
<rect x="195" y="38" width="1" height="5" fill="#000"/>
<rect x="195" y="461" width="1" height="4" fill="#000"/>
<rect x="222" y="38" width="1" height="5" fill="#000"/>
<rect x="222" y="461" width="1" height="4" fill="#000"/>
<rect x="249" y="38" width="1" height="5" fill="#000"/>
<rect x="249" y="461" width="1" height="4" fill="#000"/>
<rect x="277" y="38" width="1" height="5" fill="#000"/>
<rect x="277" y="461" width="1" height="4" fill="#000"/>
<rect x="304" y="38" width="1" height="5" fill="#000"/>
<rect x="304" y="461" width="1" height="4" fill="#000"/>
<rect x="331" y="38" width="1" height="5" fill="#000"/>
<rect x="331" y="461" width="1" height="4" fill="#000"/>
<rect x="358" y="38" width="1" height="5" fill="#000"/>
<rect x="358" y="461" width="1" height="4" fill="#000"/>
<rect x="385" y="38" width="1" height="5" fill="#000"/>
<rect x="385" y="461" width="1" height="4" fill="#000"/>
<rect x="412" y="38" width="1" height="5" fill="#000"/>
<rect x="412" y="461" width="1" height="4" fill="#000"/>
<rect x="440" y="38" width="1" height="5" fill="#000"/>
<rect x="440" y="461" width="1" height="4" fill="#000"/>
<rect x="467" y="38" width="1" height="5" fill="#000"/>
<rect x="467" y="461" width="1" height="4" fill="#000"/>
<rect x="494" y="38" width="1" height="5" fill="#000"/>
<rect x="494" y="461" width="1" height="4" fill="#000"/>
<rect x="521" y="38" width="1" height="5" fill="#000"/>
<rect x="521" y="461" width="1" height="4" fill="#000"/>
<rect x="548" y="38" width="1" height="5" fill="#000"/>
<rect x="548" y="461" width="1" height="4" fill="#000"/>
<rect x="155" y="437" width="5" height="1" fill="#000"/>
<rect x="571" y="437" width="4" height="1" fill="#000"/>
<rect x="155" y="410" width="5" height="1" fill="#000"/>
<rect x="571" y="410" width="4" height="1" fill="#000"/>
<rect x="155" y="383" width="5" height="1" fill="#000"/>
<rect x="571" y="383" width="4" height="1" fill="#000"/>
<rect x="155" y="356" width="5" height="1" fill="#000"/>
<rect x="571" y="356" width="4" height="1" fill="#000"/>
<rect x="155" y="328" width="5" height="1" fill="#000"/>
<rect x="571" y="328" width="4" height="1" fill="#000"/>
<rect x="155" y="301" width="5" height="1" fill="#000"/>
<rect x="571" y="301" width="4" height="1" fill="#000"/>
<rect x="155" y="273" width="5" height="1" fill="#000"/>
<rect x="571" y="273" width="4" height="1" fill="#000"/>
<rect x="155" y="245" width="5" height="1" fill="#000"/>
<rect x="571" y="245" width="4" height="1" fill="#000"/>
<rect x="155" y="216" width="5" height="1" fill="#000"/>
<rect x="571" y="216" width="4" height="1" fill="#000"/>
<rect x="155" y="188" width="5" height="1" fill="#000"/>
<rect x="571" y="188" width="4" height="1" fill="#000"/>
<rect x="155" y="159" width="5" height="1" fill="#000"/>
<rect x="571" y="159" width="4" height="1" fill="#000"/>
<rect x="155" y="129" width="5" height="1" fill="#000"/>
<rect x="571" y="129" width="4" height="1" fill="#000"/>
<rect x="155" y="99" width="5" height="1" fill="#000"/>
<rect x="571" y="99" width="4" height="1" fill="#000"/>
<rect x="155" y="69" width="5" height="1" fill="#000"/>
<rect x="571" y="69" width="4" height="1" fill="#000"/>
<defs><linearGradient id="cb" x1="0" x2="1" y1="0" y2="0"><stop offset="0.0000" stop-color="#0000c8"/><stop offset="0.0417" stop-color="#0000f0"/><stop offset="0.0833" stop-color="#0010ff"/><stop offset="0.1250" stop-color="#0050ff"/><stop offset="0.1667" stop-color="#0090ff"/><stop offset="0.2083" stop-color="#00c8ff"/><stop offset="0.2500" stop-color="#00ffff"/><stop offset="0.3750" stop-color="#00ff80"/><stop offset="0.4583" stop-color="#00ff00"/><stop offset="0.5833" stop-color="#60ff00"/><stop offset="0.6667" stop-color="#b0ff00"/><stop offset="0.7500" stop-color="#ffff00"/><stop offset="0.8333" stop-color="#ffb000"/><stop offset="0.9167" stop-color="#ff6000"/><stop offset="1.0000" stop-color="#ff0000"/></linearGradient></defs>
<rect x="247" y="524" width="239" height="13" fill="url(#cb)"/>
<rect x="245" y="524" width="2" height="13" fill="#000"/>
</svg>
<div class="t" style="left:365.5px;top:8px;font-size:14px;color:#000068;transform:translateX(-50%) scaleX(0.932);">Significant Wave Height with Wave Direction</div>
<div class="t" style="left:366px;top:22px;font-size:12.3px;color:#000068;font-style:italic;transform:translateX(-50%);">Valid For Feb-22-2017 06:00 GMT</div>
<div class="t" style="left:171.5px;top:474px;font-size:11px;color:#000048;font-style:italic;transform:translateX(-50%);">100 E</div>
<div class="t" style="left:239.375px;top:474px;font-size:11px;color:#000048;font-style:italic;transform:translateX(-50%);">105 E</div>
<div class="t" style="left:307.25px;top:474px;font-size:11px;color:#000048;font-style:italic;transform:translateX(-50%);">110 E</div>
<div class="t" style="left:375.125px;top:474px;font-size:11px;color:#000048;font-style:italic;transform:translateX(-50%);">115 E</div>
<div class="t" style="left:443px;top:474px;font-size:11px;color:#000048;font-style:italic;transform:translateX(-50%);">120 E</div>
<div class="t" style="left:510.875px;top:474px;font-size:11px;color:#000048;font-style:italic;transform:translateX(-50%);">125 E</div>
<div class="t" style="left:578.75px;top:474px;font-size:11px;color:#000048;font-style:italic;transform:translateX(-50%);">130 E</div>
<div class="t" style="left:583px;top:33.0483px;font-size:11px;color:#000048;font-style:italic;">30 N</div>
<div class="t" style="left:583px;top:109.411px;font-size:11px;color:#000048;font-style:italic;">25 N</div>
<div class="t" style="left:583px;top:182.722px;font-size:11px;color:#000048;font-style:italic;">20 N</div>
<div class="t" style="left:583px;top:253.735px;font-size:11px;color:#000048;font-style:italic;">15 N</div>
<div class="t" style="left:583px;top:323.105px;font-size:11px;color:#000048;font-style:italic;">10 N</div>
<div class="t" style="left:583px;top:391.413px;font-size:11px;color:#000048;font-style:italic;">5 N</div>
<div class="t" style="left:584px;top:459px;font-size:11px;color:#000048;font-style:italic;">0</div>
<div class="t" style="left:155px;top:488px;font-size:11.2px;color:#000048;">oceanweather inc.</div>
<div class="t" style="left:573.5px;top:487px;font-size:8px;color:#000048;transform:translateX(-100%) scaleX(0.93);transform-origin:100% 50%;font-style:italic;">Plotted at Feb 22, 2017 01:39 GMT</div>
<div class="t" style="left:366px;top:500.5px;font-size:10.5px;color:#000048;transform:translateX(-50%) scaleX(0.915);">Significant Wave Height (Meters)</div>
<div class="t" style="left:366px;top:548.5px;font-size:10.5px;color:#000048;transform:translateX(-50%) scaleX(0.915);">Significant Wave Height (Feet)</div>
<div class="t" style="left:246px;top:513px;font-size:10px;color:#000048;transform:translateX(-50%);">0</div>
<div class="t" style="left:266.08px;top:513px;font-size:10px;color:#000048;transform:translateX(-50%);">1</div>
<div class="t" style="left:286.16px;top:513px;font-size:10px;color:#000048;transform:translateX(-50%);">2</div>
<div class="t" style="left:306.24px;top:513px;font-size:10px;color:#000048;transform:translateX(-50%);">3</div>
<div class="t" style="left:326.32px;top:513px;font-size:10px;color:#000048;transform:translateX(-50%);">4</div>
<div class="t" style="left:346.4px;top:513px;font-size:10px;color:#000048;transform:translateX(-50%);">5</div>
<div class="t" style="left:366.48px;top:513px;font-size:10px;color:#000048;transform:translateX(-50%);">6</div>
<div class="t" style="left:386.56px;top:513px;font-size:10px;color:#000048;transform:translateX(-50%);">7</div>
<div class="t" style="left:406.64px;top:513px;font-size:10px;color:#000048;transform:translateX(-50%);">8</div>
<div class="t" style="left:426.72px;top:513px;font-size:10px;color:#000048;transform:translateX(-50%);">9</div>
<div class="t" style="left:446.8px;top:513px;font-size:10px;color:#000048;transform:translateX(-50%);">10</div>
<div class="t" style="left:466.88px;top:513px;font-size:10px;color:#000048;transform:translateX(-50%);">11</div>
<div class="t" style="left:486.96px;top:513px;font-size:10px;color:#000048;transform:translateX(-50%);">12</div>
<div class="t" style="left:246px;top:537px;font-size:10px;color:#000048;transform:translateX(-50%);">0</div>
<div class="t" style="left:276.1px;top:537px;font-size:10px;color:#000048;transform:translateX(-50%);">5</div>
<div class="t" style="left:306.2px;top:537px;font-size:10px;color:#000048;transform:translateX(-50%);">10</div>
<div class="t" style="left:336.3px;top:537px;font-size:10px;color:#000048;transform:translateX(-50%);">15</div>
<div class="t" style="left:366.4px;top:537px;font-size:10px;color:#000048;transform:translateX(-50%);">20</div>
<div class="t" style="left:396.5px;top:537px;font-size:10px;color:#000048;transform:translateX(-50%);">25</div>
<div class="t" style="left:426.6px;top:537px;font-size:10px;color:#000048;transform:translateX(-50%);">30</div>
<div class="t" style="left:456.7px;top:537px;font-size:10px;color:#000048;transform:translateX(-50%);">35</div>
<div class="t" style="left:486.8px;top:537px;font-size:10px;color:#000048;transform:translateX(-50%);">40</div>
</body></html>
